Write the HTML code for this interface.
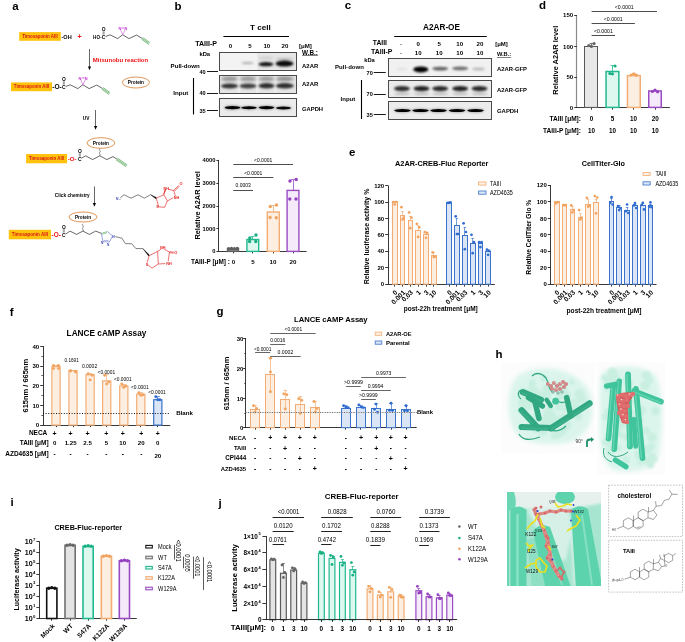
<!DOCTYPE html>
<html><head><meta charset="utf-8"><title>Figure</title>
<style>html,body{margin:0;padding:0;background:#fff;width:685px;height:642px;overflow:hidden;}svg{display:block;font-family:"Liberation Sans", sans-serif;will-change:transform;}</style>
</head><body><svg width="685" height="642" viewBox="0 0 685 642" font-family='"Liberation Sans", sans-serif'><defs><filter id="bl1" x="-50%" y="-50%" width="200%" height="200%"><feGaussianBlur stdDeviation="0.1"/></filter><filter id="bl2" x="-50%" y="-50%" width="200%" height="200%"><feGaussianBlur stdDeviation="0.2"/></filter><filter id="bl3" x="-50%" y="-50%" width="200%" height="200%"><feGaussianBlur stdDeviation="0.3"/></filter><filter id="bl4" x="-50%" y="-50%" width="200%" height="200%"><feGaussianBlur stdDeviation="0.4"/></filter><filter id="bl5" x="-50%" y="-50%" width="200%" height="200%"><feGaussianBlur stdDeviation="0.5"/></filter><filter id="bl6" x="-50%" y="-50%" width="200%" height="200%"><feGaussianBlur stdDeviation="0.6"/></filter><filter id="bl7" x="-50%" y="-50%" width="200%" height="200%"><feGaussianBlur stdDeviation="0.7"/></filter><filter id="bl8" x="-50%" y="-50%" width="200%" height="200%"><feGaussianBlur stdDeviation="0.8"/></filter><filter id="bl9" x="-50%" y="-50%" width="200%" height="200%"><feGaussianBlur stdDeviation="0.9"/></filter><filter id="bl10" x="-50%" y="-50%" width="200%" height="200%"><feGaussianBlur stdDeviation="1.0"/></filter><filter id="bl11" x="-50%" y="-50%" width="200%" height="200%"><feGaussianBlur stdDeviation="1.1"/></filter><filter id="bl12" x="-50%" y="-50%" width="200%" height="200%"><feGaussianBlur stdDeviation="1.2"/></filter><filter id="bl13" x="-50%" y="-50%" width="200%" height="200%"><feGaussianBlur stdDeviation="1.3"/></filter><filter id="bl14" x="-50%" y="-50%" width="200%" height="200%"><feGaussianBlur stdDeviation="1.4"/></filter><filter id="bl15" x="-50%" y="-50%" width="200%" height="200%"><feGaussianBlur stdDeviation="1.5"/></filter><filter id="bl16" x="-50%" y="-50%" width="200%" height="200%"><feGaussianBlur stdDeviation="1.6"/></filter><filter id="bl17" x="-50%" y="-50%" width="200%" height="200%"><feGaussianBlur stdDeviation="1.7"/></filter><filter id="bl18" x="-50%" y="-50%" width="200%" height="200%"><feGaussianBlur stdDeviation="1.8"/></filter><filter id="bl19" x="-50%" y="-50%" width="200%" height="200%"><feGaussianBlur stdDeviation="1.9"/></filter><filter id="bl20" x="-50%" y="-50%" width="200%" height="200%"><feGaussianBlur stdDeviation="2.0"/></filter><filter id="bl21" x="-50%" y="-50%" width="200%" height="200%"><feGaussianBlur stdDeviation="2.1"/></filter><filter id="bl22" x="-50%" y="-50%" width="200%" height="200%"><feGaussianBlur stdDeviation="2.2"/></filter><filter id="bl23" x="-50%" y="-50%" width="200%" height="200%"><feGaussianBlur stdDeviation="2.3"/></filter><filter id="bl24" x="-50%" y="-50%" width="200%" height="200%"><feGaussianBlur stdDeviation="2.4"/></filter><filter id="bl25" x="-50%" y="-50%" width="200%" height="200%"><feGaussianBlur stdDeviation="2.5"/></filter><filter id="bl26" x="-50%" y="-50%" width="200%" height="200%"><feGaussianBlur stdDeviation="2.6"/></filter><filter id="bl27" x="-50%" y="-50%" width="200%" height="200%"><feGaussianBlur stdDeviation="2.7"/></filter><filter id="bl28" x="-50%" y="-50%" width="200%" height="200%"><feGaussianBlur stdDeviation="2.8"/></filter><filter id="bl29" x="-50%" y="-50%" width="200%" height="200%"><feGaussianBlur stdDeviation="2.9"/></filter><filter id="bl30" x="-50%" y="-50%" width="200%" height="200%"><feGaussianBlur stdDeviation="3.0"/></filter></defs><text x="12.30" y="9.90" font-size="11.5" font-weight="bold" fill="#000">a</text>
<rect x="19.20" y="32.10" width="41.60" height="8.70" fill="#ffc20e" stroke="none" stroke-width="0.8"/>
<text x="40.00" y="38.06" font-size="4.47" font-weight="bold" text-anchor="middle" fill="#d81818">Timosaponin AIII</text>
<text x="61.50" y="38.60" font-size="5.56" font-weight="bold" text-anchor="start" fill="#000">-OH</text>
<text x="79.60" y="38.72" font-size="7.0" font-weight="bold" text-anchor="middle" fill="#f01010">+</text>
<text x="93.10" y="38.57" font-size="4.64" font-weight="bold" text-anchor="start" fill="#000">HO-</text>
<text x="103.60" y="38.66" font-size="4.9" font-weight="bold" text-anchor="middle" fill="#000">C</text>
<line x1="103.10" y1="34.60" x2="103.10" y2="31.30" stroke="#000" stroke-width="0.4"/>
<line x1="104.10" y1="34.60" x2="104.10" y2="31.30" stroke="#000" stroke-width="0.4"/>
<text x="103.60" y="30.66" font-size="4.9" font-weight="bold" text-anchor="middle" fill="#000">O</text>
<polyline points="105.40,36.60 110.00,34.80 117.60,38.60 122.70,34.80 128.90,38.60 136.50,35.10 142.20,38.40" stroke="#000" stroke-width="0.6" fill="none" stroke-linejoin="round"/>
<line x1="122.70" y1="34.80" x2="120.50" y2="29.40" stroke="#c03ad0" stroke-width="0.5"/>
<line x1="122.70" y1="34.80" x2="125.20" y2="29.40" stroke="#c03ad0" stroke-width="0.5"/>
<line x1="121.40" y1="27.50" x2="124.30" y2="27.50" stroke="#c03ad0" stroke-width="0.4"/>
<line x1="121.40" y1="28.50" x2="124.30" y2="28.50" stroke="#c03ad0" stroke-width="0.4"/>
<text x="119.80" y="29.60" font-size="3.9" font-weight="bold" text-anchor="middle" fill="#c03ad0">N</text>
<text x="125.90" y="29.60" font-size="3.9" font-weight="bold" text-anchor="middle" fill="#c03ad0">N</text>
<line x1="142.84" y1="37.51" x2="149.94" y2="42.61" stroke="#2f9233" stroke-width="0.6"/>
<line x1="142.20" y1="38.40" x2="149.30" y2="43.50" stroke="#2f9233" stroke-width="0.6"/>
<line x1="141.56" y1="39.29" x2="148.66" y2="44.39" stroke="#2f9233" stroke-width="0.6"/>
<line x1="89.50" y1="49.00" x2="89.50" y2="68.00" stroke="#000" stroke-width="0.6"/>
<path d="M87.9,66.4 L89.5,70.2 L91.1,66.4 Z" stroke="none" stroke-width="0.8" fill="#000"/>
<text x="92.80" y="62.06" font-size="6.0" font-weight="bold" text-anchor="start" fill="#f01010">Mitsunobu reaction</text>
<rect x="11.00" y="82.40" width="41.00" height="8.80" fill="#ffc20e" stroke="none" stroke-width="0.8"/>
<text x="31.50" y="88.39" font-size="4.41" font-weight="bold" text-anchor="middle" fill="#d81818">Timosaponin AIII</text>
<text x="52.20" y="89.19" font-size="6.65" font-weight="bold" text-anchor="start" fill="#000">-O-</text>
<text x="63.80" y="88.66" font-size="4.9" font-weight="bold" text-anchor="middle" fill="#000">C</text>
<line x1="63.30" y1="84.60" x2="63.30" y2="81.30" stroke="#000" stroke-width="0.4"/>
<line x1="64.30" y1="84.60" x2="64.30" y2="81.30" stroke="#000" stroke-width="0.4"/>
<text x="63.80" y="80.66" font-size="4.9" font-weight="bold" text-anchor="middle" fill="#000">O</text>
<polyline points="65.60,86.60 70.20,84.80 77.80,88.60 82.90,84.80 89.10,88.60 96.70,85.10 102.40,88.40" stroke="#000" stroke-width="0.6" fill="none" stroke-linejoin="round"/>
<line x1="82.90" y1="84.80" x2="80.70" y2="79.40" stroke="#c03ad0" stroke-width="0.5"/>
<line x1="82.90" y1="84.80" x2="85.40" y2="79.40" stroke="#c03ad0" stroke-width="0.5"/>
<line x1="81.60" y1="77.50" x2="84.50" y2="77.50" stroke="#c03ad0" stroke-width="0.4"/>
<line x1="81.60" y1="78.50" x2="84.50" y2="78.50" stroke="#c03ad0" stroke-width="0.4"/>
<text x="80.00" y="79.60" font-size="3.9" font-weight="bold" text-anchor="middle" fill="#c03ad0">N</text>
<text x="86.10" y="79.60" font-size="3.9" font-weight="bold" text-anchor="middle" fill="#c03ad0">N</text>
<line x1="103.04" y1="87.51" x2="110.14" y2="92.61" stroke="#2f9233" stroke-width="0.6"/>
<line x1="102.40" y1="88.40" x2="109.50" y2="93.50" stroke="#2f9233" stroke-width="0.6"/>
<line x1="101.76" y1="89.29" x2="108.86" y2="94.39" stroke="#2f9233" stroke-width="0.6"/>
<ellipse cx="135.90" cy="82.50" rx="13.6" ry="5.5" fill="#fff" stroke="#d8843a" stroke-width="0.85"/>
<text x="135.90" y="84.19" font-size="4.7" font-weight="bold" text-anchor="middle" fill="#000">Protein</text>
<text x="82.70" y="119.64" font-size="4.82" font-weight="bold" text-anchor="start" fill="#000">UV</text>
<line x1="95.50" y1="110.00" x2="95.50" y2="127.50" stroke="#000" stroke-width="0.6"/>
<path d="M94.0,126.0 L95.6,129.8 L97.2,126.0 Z" stroke="none" stroke-width="0.8" fill="#000"/>
<ellipse cx="100.90" cy="143.00" rx="13.9" ry="5.3" fill="#fff" stroke="#d8843a" stroke-width="0.85"/>
<text x="100.90" y="144.69" font-size="4.7" font-weight="bold" text-anchor="middle" fill="#000">Protein</text>
<rect x="26.10" y="154.00" width="41.00" height="9.30" fill="#ffc20e" stroke="none" stroke-width="0.8"/>
<text x="46.60" y="160.24" font-size="4.41" font-weight="bold" text-anchor="middle" fill="#d81818">Timosaponin AIII</text>
<text x="67.80" y="161.10" font-size="6.1" font-weight="bold" text-anchor="start" fill="#f01010">-O-</text>
<text x="79.80" y="160.56" font-size="4.9" font-weight="bold" text-anchor="middle" fill="#000">C</text>
<line x1="79.30" y1="156.50" x2="79.30" y2="153.20" stroke="#000" stroke-width="0.4"/>
<line x1="80.30" y1="156.50" x2="80.30" y2="153.20" stroke="#000" stroke-width="0.4"/>
<text x="79.80" y="152.56" font-size="4.9" font-weight="bold" text-anchor="middle" fill="#000">O</text>
<polyline points="81.40,158.20 85.70,155.80 92.60,159.60 99.80,155.80 106.80,159.60 113.00,156.60 116.70,159.00" stroke="#000" stroke-width="0.6" fill="none" stroke-linejoin="round"/>
<path d="M99.80,155.80 q0.9,-0.9 0,-1.8 q-0.9,-0.9 0,-1.8 q0.9,-0.9 0,-1.8 q-0.9,-0.9 0,-1.8" stroke="#000" stroke-width="0.45" fill="none"/>
<line x1="117.32" y1="158.09" x2="127.22" y2="164.89" stroke="#2f9233" stroke-width="0.6"/>
<line x1="116.70" y1="159.00" x2="126.60" y2="165.80" stroke="#2f9233" stroke-width="0.6"/>
<line x1="116.08" y1="159.91" x2="125.98" y2="166.71" stroke="#2f9233" stroke-width="0.6"/>
<text x="54.80" y="197.00" font-size="4.73" font-weight="bold" text-anchor="start" fill="#000">Click chemistry</text>
<line x1="94.50" y1="186.40" x2="94.50" y2="204.50" stroke="#000" stroke-width="0.6"/>
<path d="M92.8,203.0 L94.4,206.8 L96.0,203.0 Z" stroke="none" stroke-width="0.8" fill="#000"/>
<text x="117.30" y="199.62" font-size="3.4" font-weight="bold" text-anchor="middle" fill="#3a4ab8">N</text>
<text x="119.30" y="200.39" font-size="2.2" text-anchor="start" fill="#3a4ab8">3</text>
<polyline points="120.20,198.00 124.00,194.70 131.00,198.20 138.00,194.70 144.30,198.20 150.60,194.70" stroke="#000" stroke-width="0.5" fill="none" stroke-linejoin="round"/>
<path d="M150.6,194.7 L156.4,197.6 L155.9,198.8 Z" stroke="#000" stroke-width="0.4" fill="#000"/>
<polyline points="156.20,198.20 163.90,194.70 167.40,201.00 164.60,207.30 158.80,206.80 156.20,198.20" stroke="#e52222" stroke-width="0.65" fill="none" stroke-linejoin="round"/>
<polyline points="163.90,194.70 165.20,190.20" stroke="#e52222" stroke-width="0.65" fill="none" stroke-linejoin="round"/>
<polyline points="168.00,189.20 173.70,190.50 175.40,196.20" stroke="#e52222" stroke-width="0.65" fill="none" stroke-linejoin="round"/>
<polyline points="173.20,197.70 167.40,201.00" stroke="#e52222" stroke-width="0.65" fill="none" stroke-linejoin="round"/>
<line x1="173.70" y1="190.50" x2="178.70" y2="185.40" stroke="#e52222" stroke-width="0.65"/>
<line x1="174.50" y1="191.20" x2="179.50" y2="186.10" stroke="#e52222" stroke-width="0.65"/>
<path d="M163.4,194.3 L164.8,189.9 L165.7,190.4 Z" stroke="#e52222" stroke-width="0.3" fill="#e52222"/>
<text x="166.20" y="189.97" font-size="3.8" font-weight="bold" text-anchor="middle" fill="#e52222">NH</text>
<text x="176.40" y="198.77" font-size="3.8" font-weight="bold" text-anchor="middle" fill="#e52222">NH</text>
<text x="157.40" y="208.17" font-size="3.8" font-weight="bold" text-anchor="middle" fill="#e52222">S</text>
<text x="181.00" y="185.40" font-size="3.9" font-weight="bold" text-anchor="middle" fill="#e52222">O</text>
<ellipse cx="83.00" cy="217.00" rx="14.0" ry="5.0" fill="#fff" stroke="#d8843a" stroke-width="0.85"/>
<text x="83.00" y="218.69" font-size="4.7" font-weight="bold" text-anchor="middle" fill="#000">Protein</text>
<rect x="8.80" y="229.80" width="42.20" height="9.50" fill="#ffc20e" stroke="none" stroke-width="0.8"/>
<text x="29.90" y="236.18" font-size="4.54" font-weight="bold" text-anchor="middle" fill="#d81818">Timosaponin AIII</text>
<text x="51.50" y="236.82" font-size="6.44" font-weight="bold" text-anchor="start" fill="#f01010">-O-</text>
<text x="63.80" y="236.56" font-size="4.9" font-weight="bold" text-anchor="middle" fill="#000">C</text>
<line x1="63.30" y1="232.50" x2="63.30" y2="229.20" stroke="#000" stroke-width="0.4"/>
<line x1="64.30" y1="232.50" x2="64.30" y2="229.20" stroke="#000" stroke-width="0.4"/>
<text x="63.80" y="228.56" font-size="4.9" font-weight="bold" text-anchor="middle" fill="#000">O</text>
<polyline points="65.40,234.20 70.10,231.10 76.50,234.40 82.90,231.10 89.30,234.40 95.70,231.10 101.30,233.30" stroke="#000" stroke-width="0.6" fill="none" stroke-linejoin="round"/>
<path d="M82.90,231.10 q0.9,-0.9 0,-1.8 q-0.9,-0.9 0,-1.8 q0.9,-0.9 0,-1.8 q-0.9,-0.9 0,-1.8" stroke="#000" stroke-width="0.45" fill="none"/>
<path d="M101.3,233.3 L107.5,231.6" stroke="#2f9233" stroke-width="0.5" fill="none"/>
<line x1="101.90" y1="234.30" x2="107.00" y2="232.90" stroke="#2f9233" stroke-width="0.45"/>
<polyline points="107.50,231.60 112.60,236.00 109.30,242.00 103.00,241.60 101.30,233.30" stroke="#3a4ab8" stroke-width="0.5" fill="none" stroke-linejoin="round"/>
<line x1="103.80" y1="240.30" x2="108.40" y2="240.60" stroke="#3a4ab8" stroke-width="0.4"/>
<text x="113.60" y="237.52" font-size="3.4" font-weight="bold" text-anchor="middle" fill="#3a4ab8">N</text>
<text x="102.20" y="244.35" font-size="3.2" font-weight="bold" text-anchor="middle" fill="#3a4ab8">N</text>
<text x="108.20" y="245.95" font-size="3.2" font-weight="bold" text-anchor="middle" fill="#3a4ab8">N</text>
<polyline points="115.30,236.60 118.50,237.40 121.90,238.10 125.40,243.70 131.70,243.70 135.90,248.60 142.90,248.60" stroke="#000" stroke-width="0.5" fill="none" stroke-linejoin="round"/>
<path d="M142.9,248.6 L149.4,255.0 L148.6,256.0 Z" stroke="#000" stroke-width="0.4" fill="#000"/>
<polyline points="147.10,262.60 149.20,255.60 157.60,251.40" stroke="#e52222" stroke-width="0.65" fill="none" stroke-linejoin="round"/>
<polyline points="157.60,251.40 158.30,264.00 152.00,268.20 148.20,265.10" stroke="#e52222" stroke-width="0.65" fill="none" stroke-linejoin="round"/>
<polyline points="157.60,251.40 161.20,249.10" stroke="#e52222" stroke-width="0.65" fill="none" stroke-linejoin="round"/>
<polyline points="164.20,249.10 169.50,252.10 168.20,261.10" stroke="#e52222" stroke-width="0.65" fill="none" stroke-linejoin="round"/>
<polyline points="165.20,263.60 158.30,264.00" stroke="#e52222" stroke-width="0.65" fill="none" stroke-linejoin="round"/>
<line x1="169.50" y1="251.60" x2="173.70" y2="252.20" stroke="#e52222" stroke-width="0.65"/>
<line x1="169.50" y1="252.60" x2="173.70" y2="253.20" stroke="#e52222" stroke-width="0.65"/>
<text x="162.70" y="249.17" font-size="3.8" font-weight="bold" text-anchor="middle" fill="#e52222">NH</text>
<text x="169.00" y="264.97" font-size="3.8" font-weight="bold" text-anchor="middle" fill="#e52222">NH</text>
<text x="146.90" y="265.57" font-size="3.8" font-weight="bold" text-anchor="middle" fill="#e52222">S</text>
<text x="175.80" y="254.20" font-size="3.9" font-weight="bold" text-anchor="middle" fill="#e52222">O</text>
<text x="174.60" y="9.60" font-size="11.5" font-weight="bold" fill="#000">b</text>
<text x="250.00" y="29.92" font-size="8.1" font-weight="bold" text-anchor="start" fill="#000">T cell</text>
<line x1="223.40" y1="36.50" x2="289.00" y2="36.50" stroke="#000" stroke-width="1.0"/>
<text x="195.20" y="46.14" font-size="7.05" font-weight="bold" text-anchor="start" fill="#000">TAIII-P</text>
<text x="230.40" y="47.80" font-size="6.1" font-weight="bold" text-anchor="middle" fill="#000">0</text>
<text x="250.00" y="47.80" font-size="6.1" font-weight="bold" text-anchor="middle" fill="#000">5</text>
<text x="266.80" y="47.80" font-size="6.1" font-weight="bold" text-anchor="middle" fill="#000">10</text>
<text x="285.00" y="47.80" font-size="6.1" font-weight="bold" text-anchor="middle" fill="#000">20</text>
<text x="299.00" y="47.70" font-size="6.11" font-weight="bold" text-anchor="start" fill="#000">[μM]</text>
<text x="199.40" y="55.90" font-size="5.83" font-weight="bold" text-anchor="start" fill="#000">kDa</text>
<text x="302.10" y="54.78" font-size="6.32" font-weight="bold" text-anchor="start" fill="#000">W.B.:</text>
<line x1="302.10" y1="55.50" x2="317.90" y2="55.50" stroke="#000" stroke-width="0.5"/>
<text x="170.60" y="68.00" font-size="6.11" font-weight="bold" text-anchor="start" fill="#000">Pull-down</text>
<text x="302.10" y="68.13" font-size="5.91" font-weight="bold" text-anchor="start" fill="#000">A2AR</text>
<text x="302.10" y="86.03" font-size="5.91" font-weight="bold" text-anchor="start" fill="#000">A2AR</text>
<text x="302.10" y="110.89" font-size="5.81" font-weight="bold" text-anchor="start" fill="#000">GAPDH</text>
<text x="173.30" y="95.21" font-size="6.14" font-weight="bold" text-anchor="start" fill="#000">Input</text>
<line x1="193.50" y1="78.00" x2="193.50" y2="114.50" stroke="#000" stroke-width="1.1"/>
<text x="205.70" y="74.02" font-size="5.6" font-weight="bold" text-anchor="end" fill="#000">40</text>
<text x="205.70" y="95.32" font-size="5.6" font-weight="bold" text-anchor="end" fill="#000">40</text>
<text x="205.70" y="113.22" font-size="5.6" font-weight="bold" text-anchor="end" fill="#000">35</text>
<line x1="207.00" y1="71.50" x2="218.00" y2="71.50" stroke="#000" stroke-width="0.9"/>
<line x1="207.00" y1="93.50" x2="218.00" y2="93.50" stroke="#000" stroke-width="0.9"/>
<line x1="207.00" y1="110.50" x2="218.00" y2="110.50" stroke="#000" stroke-width="0.9"/>
<clipPath id="clip1"><rect x="219.4" y="52.4" width="76.9" height="18.4"/></clipPath>
<g clip-path="url(#clip1)">
<rect x="219.40" y="52.40" width="76.90" height="18.40" fill="#f3f3f3" stroke="none" stroke-width="0.8"/>
<rect x="257.50" y="52.40" width="38.80" height="18.40" fill="#e6e6e6" stroke="none" stroke-width="0.8"/>
<ellipse cx="247.50" cy="63.00" rx="6.00" ry="1.30" fill="#000" fill-opacity="0.25" filter="url(#bl10)"/>
<ellipse cx="266.00" cy="64.20" rx="7.50" ry="2.10" fill="#000" fill-opacity="0.92" filter="url(#bl9)"/>
<ellipse cx="284.50" cy="63.60" rx="9.00" ry="3.00" fill="#000" fill-opacity="0.95" filter="url(#bl10)"/>
<ellipse cx="284.50" cy="59.00" rx="9.00" ry="1.50" fill="#000" fill-opacity="0.15" filter="url(#bl12)"/>
<ellipse cx="266.00" cy="58.00" rx="7.50" ry="1.50" fill="#000" fill-opacity="0.1" filter="url(#bl12)"/>
</g>
<rect x="219.50" y="52.50" width="77.00" height="18.00" fill="none" stroke="#4a4a4a" stroke-width="1.0"/>
<clipPath id="clip2"><rect x="219.4" y="75.4" width="76.9" height="18.0"/></clipPath>
<g clip-path="url(#clip2)">
<rect x="219.40" y="75.40" width="76.90" height="18.00" fill="#e4e4e4" stroke="none" stroke-width="0.8"/>
<rect x="237.50" y="75.40" width="3.00" height="18.00" fill="#ececec" stroke="none" stroke-width="0.8"/>
<rect x="256.00" y="75.40" width="2.50" height="18.00" fill="#ececec" stroke="none" stroke-width="0.8"/>
<rect x="274.50" y="75.40" width="2.00" height="18.00" fill="#ececec" stroke="none" stroke-width="0.8"/>
<ellipse cx="229.50" cy="86.00" rx="8.50" ry="2.60" fill="#000" fill-opacity="0.78" filter="url(#bl13)"/>
<ellipse cx="248.00" cy="86.00" rx="8.50" ry="2.50" fill="#000" fill-opacity="0.72" filter="url(#bl13)"/>
<ellipse cx="266.50" cy="85.80" rx="8.00" ry="2.70" fill="#000" fill-opacity="0.8" filter="url(#bl13)"/>
<ellipse cx="284.80" cy="85.80" rx="9.00" ry="2.70" fill="#000" fill-opacity="0.8" filter="url(#bl13)"/>
<ellipse cx="229.50" cy="78.80" rx="8.50" ry="2.25" fill="#000" fill-opacity="0.36" filter="url(#bl14)"/>
<ellipse cx="248.00" cy="78.80" rx="8.50" ry="2.25" fill="#000" fill-opacity="0.34" filter="url(#bl14)"/>
<ellipse cx="266.50" cy="78.80" rx="8.00" ry="2.25" fill="#000" fill-opacity="0.34" filter="url(#bl14)"/>
<ellipse cx="284.80" cy="78.80" rx="9.00" ry="2.25" fill="#000" fill-opacity="0.38" filter="url(#bl14)"/>
</g>
<rect x="219.50" y="75.50" width="77.00" height="18.00" fill="none" stroke="#4a4a4a" stroke-width="1.0"/>
<clipPath id="clip3"><rect x="219.4" y="98.3" width="76.9" height="18.400000000000006"/></clipPath>
<g clip-path="url(#clip3)">
<rect x="219.40" y="98.30" width="76.90" height="18.40" fill="#ececec" stroke="none" stroke-width="0.8"/>
<ellipse cx="232.50" cy="107.60" rx="7.75" ry="1.70" fill="#000" fill-opacity="1.0" filter="url(#bl5)"/>
<ellipse cx="249.00" cy="107.80" rx="7.75" ry="1.50" fill="#000" fill-opacity="1.0" filter="url(#bl5)"/>
<ellipse cx="266.50" cy="107.60" rx="7.75" ry="1.60" fill="#000" fill-opacity="1.0" filter="url(#bl5)"/>
<ellipse cx="283.50" cy="108.00" rx="7.50" ry="1.40" fill="#000" fill-opacity="0.95" filter="url(#bl5)"/>
<ellipse cx="232.50" cy="107.60" rx="8.75" ry="2.30" fill="#000" fill-opacity="0.35" filter="url(#bl10)"/>
<ellipse cx="249.00" cy="107.80" rx="8.75" ry="2.10" fill="#000" fill-opacity="0.3" filter="url(#bl10)"/>
<ellipse cx="266.50" cy="107.60" rx="8.75" ry="2.20" fill="#000" fill-opacity="0.35" filter="url(#bl10)"/>
<ellipse cx="283.50" cy="108.00" rx="8.50" ry="2.00" fill="#000" fill-opacity="0.3" filter="url(#bl10)"/>
</g>
<rect x="219.50" y="98.50" width="77.00" height="18.00" fill="none" stroke="#4a4a4a" stroke-width="1.0"/>
<text x="344.70" y="8.80" font-size="11.5" font-weight="bold" fill="#000">c</text>
<text x="423.00" y="29.76" font-size="8.22" font-weight="bold" text-anchor="start" fill="#000">A2AR-OE</text>
<line x1="394.20" y1="36.50" x2="486.80" y2="36.50" stroke="#000" stroke-width="1.0"/>
<text x="372.80" y="44.94" font-size="6.79" font-weight="bold" text-anchor="start" fill="#000">TAIII</text>
<text x="371.00" y="53.80" font-size="6.95" font-weight="bold" text-anchor="start" fill="#000">TAIII-P</text>
<text x="401.00" y="46.20" font-size="6.1" font-weight="bold" text-anchor="middle" fill="#000">-</text>
<text x="401.00" y="55.20" font-size="6.1" font-weight="bold" text-anchor="middle" fill="#000">-</text>
<text x="418.20" y="46.20" font-size="6.1" font-weight="bold" text-anchor="middle" fill="#000">0</text>
<text x="418.20" y="55.20" font-size="6.1" font-weight="bold" text-anchor="middle" fill="#000">10</text>
<text x="439.20" y="46.20" font-size="6.1" font-weight="bold" text-anchor="middle" fill="#000">5</text>
<text x="439.20" y="55.20" font-size="6.1" font-weight="bold" text-anchor="middle" fill="#000">10</text>
<text x="459.70" y="46.20" font-size="6.1" font-weight="bold" text-anchor="middle" fill="#000">10</text>
<text x="459.70" y="55.20" font-size="6.1" font-weight="bold" text-anchor="middle" fill="#000">10</text>
<text x="479.90" y="46.20" font-size="6.1" font-weight="bold" text-anchor="middle" fill="#000">20</text>
<text x="479.90" y="55.20" font-size="6.1" font-weight="bold" text-anchor="middle" fill="#000">10</text>
<text x="495.20" y="45.95" font-size="5.97" font-weight="bold" text-anchor="start" fill="#000">[μM]</text>
<text x="497.00" y="55.74" font-size="5.68" font-weight="bold" text-anchor="start" fill="#000">W.B.:</text>
<line x1="497.00" y1="57.50" x2="511.20" y2="57.50" stroke="#000" stroke-width="0.5"/>
<text x="364.20" y="61.78" font-size="5.78" font-weight="bold" text-anchor="start" fill="#000">kDa</text>
<text x="335.10" y="68.57" font-size="6.03" font-weight="bold" text-anchor="start" fill="#000">Pull-down</text>
<text x="340.60" y="101.37" font-size="6.02" font-weight="bold" text-anchor="start" fill="#000">Input</text>
<line x1="361.50" y1="80.00" x2="361.50" y2="119.00" stroke="#000" stroke-width="1.1"/>
<text x="497.00" y="70.61" font-size="5.87" font-weight="bold" text-anchor="start" fill="#000">A2AR-GFP</text>
<text x="497.00" y="91.81" font-size="5.87" font-weight="bold" text-anchor="start" fill="#000">A2AR-GFP</text>
<text x="497.00" y="112.83" font-size="5.93" font-weight="bold" text-anchor="start" fill="#000">GAPDH</text>
<text x="372.80" y="75.02" font-size="5.6" font-weight="bold" text-anchor="end" fill="#000">70</text>
<line x1="373.80" y1="72.50" x2="385.80" y2="72.50" stroke="#000" stroke-width="0.9"/>
<text x="372.80" y="96.12" font-size="5.6" font-weight="bold" text-anchor="end" fill="#000">70</text>
<line x1="373.80" y1="94.50" x2="385.80" y2="94.50" stroke="#000" stroke-width="0.9"/>
<text x="372.80" y="117.12" font-size="5.6" font-weight="bold" text-anchor="end" fill="#000">35</text>
<line x1="373.80" y1="114.50" x2="385.80" y2="114.50" stroke="#000" stroke-width="0.9"/>
<clipPath id="clip4"><rect x="388.2" y="58.7" width="103.69999999999999" height="17.599999999999994"/></clipPath>
<g clip-path="url(#clip4)">
<rect x="388.20" y="58.70" width="103.70" height="17.60" fill="#f1f1f1" stroke="none" stroke-width="0.8"/>
<ellipse cx="420.80" cy="69.40" rx="7.50" ry="3.00" fill="#000" fill-opacity="1.0" filter="url(#bl8)"/>
<ellipse cx="440.20" cy="68.60" rx="8.00" ry="1.90" fill="#000" fill-opacity="0.6" filter="url(#bl11)"/>
<ellipse cx="460.20" cy="68.40" rx="8.00" ry="1.90" fill="#000" fill-opacity="0.55" filter="url(#bl11)"/>
<ellipse cx="478.50" cy="69.00" rx="6.50" ry="1.60" fill="#000" fill-opacity="0.22" filter="url(#bl11)"/>
<ellipse cx="401.50" cy="69.00" rx="6.00" ry="1.50" fill="#000" fill-opacity="0.06" filter="url(#bl10)"/>
</g>
<rect x="388.50" y="58.50" width="103.00" height="18.00" fill="none" stroke="#4a4a4a" stroke-width="1.0"/>
<clipPath id="clip5"><rect x="388.2" y="80.2" width="103.69999999999999" height="17.39999999999999"/></clipPath>
<g clip-path="url(#clip5)">
<rect x="388.20" y="80.20" width="103.70" height="17.40" fill="#ebebeb" stroke="none" stroke-width="0.8"/>
<ellipse cx="402.00" cy="88.60" rx="8.00" ry="2.60" fill="#000" fill-opacity="0.8" filter="url(#bl12)"/>
<ellipse cx="421.50" cy="88.60" rx="8.00" ry="2.70" fill="#000" fill-opacity="0.86" filter="url(#bl12)"/>
<ellipse cx="440.20" cy="88.60" rx="8.00" ry="2.60" fill="#000" fill-opacity="0.82" filter="url(#bl12)"/>
<ellipse cx="460.20" cy="88.60" rx="8.00" ry="2.70" fill="#000" fill-opacity="0.86" filter="url(#bl12)"/>
<ellipse cx="479.50" cy="88.60" rx="8.00" ry="2.60" fill="#000" fill-opacity="0.82" filter="url(#bl12)"/>
<ellipse cx="402.00" cy="93.80" rx="8.00" ry="1.30" fill="#000" fill-opacity="0.2" filter="url(#bl12)"/>
<ellipse cx="421.50" cy="93.80" rx="8.00" ry="1.30" fill="#000" fill-opacity="0.2" filter="url(#bl12)"/>
<ellipse cx="440.20" cy="93.80" rx="8.00" ry="1.30" fill="#000" fill-opacity="0.2" filter="url(#bl12)"/>
<ellipse cx="460.20" cy="93.80" rx="8.00" ry="1.30" fill="#000" fill-opacity="0.2" filter="url(#bl12)"/>
<ellipse cx="479.50" cy="93.80" rx="8.00" ry="1.30" fill="#000" fill-opacity="0.2" filter="url(#bl12)"/>
</g>
<rect x="388.50" y="80.50" width="103.00" height="17.00" fill="none" stroke="#4a4a4a" stroke-width="1.0"/>
<clipPath id="clip6"><rect x="388.2" y="101.2" width="103.69999999999999" height="17.799999999999997"/></clipPath>
<g clip-path="url(#clip6)">
<rect x="388.20" y="101.20" width="103.70" height="17.80" fill="#ececec" stroke="none" stroke-width="0.8"/>
<ellipse cx="402.50" cy="110.60" rx="8.25" ry="1.50" fill="#000" fill-opacity="1.0" filter="url(#bl5)"/>
<ellipse cx="420.50" cy="110.60" rx="8.25" ry="1.50" fill="#000" fill-opacity="1.0" filter="url(#bl5)"/>
<ellipse cx="438.50" cy="110.60" rx="8.25" ry="1.50" fill="#000" fill-opacity="1.0" filter="url(#bl5)"/>
<ellipse cx="457.00" cy="110.60" rx="8.25" ry="1.50" fill="#000" fill-opacity="1.0" filter="url(#bl5)"/>
<ellipse cx="475.50" cy="110.60" rx="8.25" ry="1.50" fill="#000" fill-opacity="1.0" filter="url(#bl5)"/>
<ellipse cx="402.50" cy="110.60" rx="9.00" ry="2.10" fill="#000" fill-opacity="0.3" filter="url(#bl10)"/>
<ellipse cx="420.50" cy="110.60" rx="9.00" ry="2.10" fill="#000" fill-opacity="0.3" filter="url(#bl10)"/>
<ellipse cx="438.50" cy="110.60" rx="9.00" ry="2.10" fill="#000" fill-opacity="0.3" filter="url(#bl10)"/>
<ellipse cx="457.00" cy="110.60" rx="9.00" ry="2.10" fill="#000" fill-opacity="0.3" filter="url(#bl10)"/>
<ellipse cx="475.50" cy="110.60" rx="9.00" ry="2.10" fill="#000" fill-opacity="0.3" filter="url(#bl10)"/>
</g>
<rect x="388.50" y="101.50" width="103.00" height="18.00" fill="none" stroke="#4a4a4a" stroke-width="1.0"/>
<text x="539.00" y="8.60" font-size="11.5" font-weight="bold" fill="#000">d</text>
<line x1="576.50" y1="15.00" x2="576.50" y2="107.70" stroke="#8a8a8a" stroke-width="1.2"/>
<line x1="574.20" y1="15.50" x2="576.90" y2="15.50" stroke="#222" stroke-width="0.9"/>
<text x="573.20" y="17.48" font-size="6.05" font-weight="bold" text-anchor="end" fill="#000">150</text>
<line x1="574.20" y1="46.50" x2="576.90" y2="46.50" stroke="#222" stroke-width="0.9"/>
<text x="573.20" y="48.58" font-size="6.05" font-weight="bold" text-anchor="end" fill="#000">100</text>
<line x1="574.20" y1="77.50" x2="576.90" y2="77.50" stroke="#222" stroke-width="0.9"/>
<text x="573.20" y="79.18" font-size="6.05" font-weight="bold" text-anchor="end" fill="#000">50</text>
<line x1="574.20" y1="107.50" x2="576.90" y2="107.50" stroke="#222" stroke-width="0.9"/>
<text x="573.20" y="109.58" font-size="6.05" font-weight="bold" text-anchor="end" fill="#000">0</text>
<line x1="576.40" y1="107.50" x2="669.80" y2="107.50" stroke="#222" stroke-width="0.9"/>
<line x1="591.50" y1="107.40" x2="591.50" y2="109.70" stroke="#222" stroke-width="0.9"/>
<line x1="612.50" y1="107.40" x2="612.50" y2="109.70" stroke="#222" stroke-width="0.9"/>
<line x1="633.50" y1="107.40" x2="633.50" y2="109.70" stroke="#222" stroke-width="0.9"/>
<line x1="655.50" y1="107.40" x2="655.50" y2="109.70" stroke="#222" stroke-width="0.9"/>
<text x="555.40" y="62.87" font-size="7.41" font-weight="bold" text-anchor="middle" fill="#000" transform="rotate(-90 555.40 60.20)">Relative A2AR level</text>
<rect x="584.50" y="46.50" width="13.00" height="60.90" fill="#e8e8e8" stroke="#585858" stroke-width="1.0"/>
<line x1="591.50" y1="43.50" x2="591.50" y2="46.60" stroke="#585858" stroke-width="0.8"/>
<line x1="589.65" y1="43.50" x2="593.25" y2="43.50" stroke="#585858" stroke-width="0.8"/>
<circle cx="588.85" cy="45.50" r="1.60" fill="#666666" stroke="none" stroke-width="0.5"/>
<circle cx="591.45" cy="46.40" r="1.60" fill="#666666" stroke="none" stroke-width="0.5"/>
<circle cx="594.05" cy="43.60" r="1.60" fill="#666666" stroke="none" stroke-width="0.5"/>
<rect x="606.05" y="71.50" width="12.80" height="35.90" fill="#dcf8ef" stroke="#22b890" stroke-width="1.5"/>
<line x1="612.50" y1="65.40" x2="612.50" y2="71.50" stroke="#22b890" stroke-width="0.8"/>
<line x1="610.65" y1="65.50" x2="614.25" y2="65.50" stroke="#22b890" stroke-width="0.8"/>
<circle cx="609.85" cy="73.50" r="1.60" fill="#18b083" stroke="none" stroke-width="0.5"/>
<circle cx="612.45" cy="73.80" r="1.60" fill="#18b083" stroke="none" stroke-width="0.5"/>
<circle cx="615.05" cy="66.00" r="1.60" fill="#18b083" stroke="none" stroke-width="0.5"/>
<rect x="627.45" y="75.60" width="12.80" height="31.80" fill="#fdeee2" stroke="#f3ad74" stroke-width="1.5"/>
<line x1="633.50" y1="73.80" x2="633.50" y2="75.60" stroke="#f3ad74" stroke-width="0.8"/>
<line x1="632.05" y1="73.50" x2="635.65" y2="73.50" stroke="#f3ad74" stroke-width="0.8"/>
<circle cx="631.25" cy="75.00" r="1.60" fill="#f0a460" stroke="none" stroke-width="0.5"/>
<circle cx="633.85" cy="73.80" r="1.60" fill="#f0a460" stroke="none" stroke-width="0.5"/>
<circle cx="636.45" cy="75.20" r="1.60" fill="#f0a460" stroke="none" stroke-width="0.5"/>
<rect x="648.75" y="91.00" width="12.50" height="16.40" fill="#f4eafa" stroke="#9a4cc3" stroke-width="1.5"/>
<line x1="655.50" y1="90.00" x2="655.50" y2="91.00" stroke="#9a4cc3" stroke-width="0.8"/>
<line x1="653.20" y1="90.50" x2="656.80" y2="90.50" stroke="#9a4cc3" stroke-width="0.8"/>
<circle cx="652.40" cy="91.50" r="1.60" fill="#9440bf" stroke="none" stroke-width="0.5"/>
<circle cx="655.00" cy="90.00" r="1.60" fill="#9440bf" stroke="none" stroke-width="0.5"/>
<circle cx="657.60" cy="91.80" r="1.60" fill="#9440bf" stroke="none" stroke-width="0.5"/>
<line x1="591.60" y1="11.50" x2="657.00" y2="11.50" stroke="#000" stroke-width="0.7"/>
<text x="624.30" y="8.70" font-size="5.82" text-anchor="middle" fill="#000" textLength="18.94" lengthAdjust="spacingAndGlyphs">&lt;0.0001</text>
<line x1="591.60" y1="23.50" x2="634.90" y2="23.50" stroke="#000" stroke-width="0.7"/>
<text x="613.25" y="20.70" font-size="5.82" text-anchor="middle" fill="#000" textLength="18.94" lengthAdjust="spacingAndGlyphs">&lt;0.0001</text>
<line x1="591.60" y1="35.50" x2="615.10" y2="35.50" stroke="#000" stroke-width="0.7"/>
<text x="603.35" y="33.00" font-size="5.82" text-anchor="middle" fill="#000" textLength="18.94" lengthAdjust="spacingAndGlyphs">&lt;0.0001</text>
<text x="549.50" y="121.05" font-size="6.54" font-weight="bold" text-anchor="start" fill="#000">TAIII [μM]:</text>
<text x="543.00" y="132.76" font-size="6.56" font-weight="bold" text-anchor="start" fill="#000">TAIII-P [μM]:</text>
<text x="591.60" y="120.97" font-size="6.3" font-weight="bold" text-anchor="middle" fill="#000">0</text>
<text x="591.60" y="132.67" font-size="6.3" font-weight="bold" text-anchor="middle" fill="#000">10</text>
<text x="612.60" y="120.97" font-size="6.3" font-weight="bold" text-anchor="middle" fill="#000">5</text>
<text x="612.60" y="132.67" font-size="6.3" font-weight="bold" text-anchor="middle" fill="#000">10</text>
<text x="633.60" y="120.97" font-size="6.3" font-weight="bold" text-anchor="middle" fill="#000">10</text>
<text x="633.60" y="132.67" font-size="6.3" font-weight="bold" text-anchor="middle" fill="#000">10</text>
<text x="655.30" y="120.97" font-size="6.3" font-weight="bold" text-anchor="middle" fill="#000">20</text>
<text x="655.30" y="132.67" font-size="6.3" font-weight="bold" text-anchor="middle" fill="#000">10</text>
<line x1="218.50" y1="159.90" x2="218.50" y2="251.70" stroke="#222" stroke-width="0.9"/>
<line x1="216.40" y1="160.50" x2="218.90" y2="160.50" stroke="#222" stroke-width="0.9"/>
<text x="215.40" y="162.29" font-size="5.8" font-weight="bold" text-anchor="end" fill="#000">4000</text>
<line x1="216.40" y1="183.50" x2="218.90" y2="183.50" stroke="#222" stroke-width="0.9"/>
<text x="215.40" y="185.09" font-size="5.8" font-weight="bold" text-anchor="end" fill="#000">3000</text>
<line x1="216.40" y1="206.50" x2="218.90" y2="206.50" stroke="#222" stroke-width="0.9"/>
<text x="215.40" y="208.09" font-size="5.8" font-weight="bold" text-anchor="end" fill="#000">2000</text>
<line x1="216.40" y1="228.50" x2="218.90" y2="228.50" stroke="#222" stroke-width="0.9"/>
<text x="215.40" y="230.59" font-size="5.8" font-weight="bold" text-anchor="end" fill="#000">1000</text>
<line x1="216.40" y1="251.50" x2="218.90" y2="251.50" stroke="#222" stroke-width="0.9"/>
<text x="215.40" y="253.49" font-size="5.8" font-weight="bold" text-anchor="end" fill="#000">0</text>
<line x1="218.60" y1="251.50" x2="306.60" y2="251.50" stroke="#222" stroke-width="0.9"/>
<line x1="233.50" y1="251.40" x2="233.50" y2="253.40" stroke="#222" stroke-width="0.9"/>
<line x1="252.50" y1="251.40" x2="252.50" y2="253.40" stroke="#222" stroke-width="0.9"/>
<line x1="273.50" y1="251.40" x2="273.50" y2="253.40" stroke="#222" stroke-width="0.9"/>
<line x1="293.50" y1="251.40" x2="293.50" y2="253.40" stroke="#222" stroke-width="0.9"/>
<text x="197.30" y="207.95" font-size="7.37" font-weight="bold" text-anchor="middle" fill="#000" transform="rotate(-90 197.30 205.30)">Relative A2AR level</text>
<rect x="227.50" y="249.00" width="11.00" height="2.40" fill="#888" stroke="#606060" stroke-width="1.4"/>
<line x1="233.50" y1="248.00" x2="233.50" y2="249.00" stroke="#606060" stroke-width="0.8"/>
<line x1="231.20" y1="248.50" x2="234.80" y2="248.50" stroke="#606060" stroke-width="0.8"/>
<circle cx="228.60" cy="248.60" r="1.70" fill="#606060" stroke="none" stroke-width="0.5"/>
<circle cx="231.50" cy="248.40" r="1.70" fill="#606060" stroke="none" stroke-width="0.5"/>
<circle cx="234.50" cy="248.60" r="1.70" fill="#606060" stroke="none" stroke-width="0.5"/>
<circle cx="237.40" cy="248.40" r="1.70" fill="#606060" stroke="none" stroke-width="0.5"/>
<rect x="246.90" y="239.50" width="11.80" height="11.90" fill="#dcf8ef" stroke="#22b890" stroke-width="1.4"/>
<line x1="252.50" y1="236.50" x2="252.50" y2="239.50" stroke="#22b890" stroke-width="0.8"/>
<line x1="251.00" y1="236.50" x2="254.60" y2="236.50" stroke="#22b890" stroke-width="0.8"/>
<circle cx="249.60" cy="241.50" r="1.70" fill="#18b083" stroke="none" stroke-width="0.5"/>
<circle cx="255.80" cy="241.50" r="1.70" fill="#18b083" stroke="none" stroke-width="0.5"/>
<circle cx="249.80" cy="238.00" r="1.70" fill="#18b083" stroke="none" stroke-width="0.5"/>
<circle cx="256.00" cy="235.00" r="1.70" fill="#18b083" stroke="none" stroke-width="0.5"/>
<rect x="267.30" y="212.00" width="12.00" height="39.40" fill="#fdeee2" stroke="#f3ad74" stroke-width="1.4"/>
<line x1="273.50" y1="205.40" x2="273.50" y2="212.00" stroke="#f3ad74" stroke-width="0.8"/>
<line x1="271.50" y1="205.50" x2="275.10" y2="205.50" stroke="#f3ad74" stroke-width="0.8"/>
<circle cx="270.10" cy="217.50" r="1.70" fill="#f0a460" stroke="none" stroke-width="0.5"/>
<circle cx="276.30" cy="217.80" r="1.70" fill="#f0a460" stroke="none" stroke-width="0.5"/>
<circle cx="270.30" cy="206.50" r="1.70" fill="#f0a460" stroke="none" stroke-width="0.5"/>
<circle cx="276.50" cy="205.00" r="1.70" fill="#f0a460" stroke="none" stroke-width="0.5"/>
<rect x="287.10" y="190.40" width="11.80" height="61.00" fill="#f4eafa" stroke="#9a4cc3" stroke-width="1.4"/>
<line x1="293.50" y1="179.60" x2="293.50" y2="190.40" stroke="#9a4cc3" stroke-width="0.8"/>
<line x1="291.20" y1="179.50" x2="294.80" y2="179.50" stroke="#9a4cc3" stroke-width="0.8"/>
<circle cx="289.80" cy="199.00" r="1.70" fill="#9440bf" stroke="none" stroke-width="0.5"/>
<circle cx="296.00" cy="199.00" r="1.70" fill="#9440bf" stroke="none" stroke-width="0.5"/>
<circle cx="290.00" cy="181.00" r="1.70" fill="#9440bf" stroke="none" stroke-width="0.5"/>
<circle cx="296.20" cy="179.50" r="1.70" fill="#9440bf" stroke="none" stroke-width="0.5"/>
<line x1="233.30" y1="164.50" x2="293.00" y2="164.50" stroke="#000" stroke-width="0.7"/>
<text x="263.15" y="161.52" font-size="5.6" text-anchor="middle" fill="#000" textLength="18.21" lengthAdjust="spacingAndGlyphs">&lt;0.0001</text>
<line x1="233.30" y1="177.50" x2="273.30" y2="177.50" stroke="#000" stroke-width="0.7"/>
<text x="253.30" y="174.62" font-size="5.6" text-anchor="middle" fill="#000" textLength="18.21" lengthAdjust="spacingAndGlyphs">&lt;0.0001</text>
<line x1="233.30" y1="190.50" x2="253.00" y2="190.50" stroke="#000" stroke-width="0.7"/>
<text x="243.15" y="187.22" font-size="5.6" text-anchor="middle" fill="#000" textLength="15.29" lengthAdjust="spacingAndGlyphs">0.0003</text>
<text x="191.00" y="264.31" font-size="6.42" font-weight="bold" text-anchor="start" fill="#000">TAIII-P [μM] :</text>
<text x="233.50" y="264.23" font-size="6.2" font-weight="bold" text-anchor="middle" fill="#000">0</text>
<text x="253.00" y="264.23" font-size="6.2" font-weight="bold" text-anchor="middle" fill="#000">5</text>
<text x="272.90" y="264.23" font-size="6.2" font-weight="bold" text-anchor="middle" fill="#000">10</text>
<text x="293.00" y="264.23" font-size="6.2" font-weight="bold" text-anchor="middle" fill="#000">20</text>
<text x="349.00" y="155.50" font-size="11.5" font-weight="bold" fill="#000">e</text>
<text x="395.00" y="166.25" font-size="7.35" font-weight="bold" text-anchor="start" fill="#000">A2AR-CREB-Fluc Reporter</text>
<line x1="388.50" y1="185.50" x2="388.50" y2="284.50" stroke="#222" stroke-width="0.9"/>
<line x1="385.20" y1="185.50" x2="388.20" y2="185.50" stroke="#222" stroke-width="0.9"/>
<text x="384.20" y="187.96" font-size="6.0" font-weight="bold" text-anchor="end" fill="#000">120</text>
<line x1="385.20" y1="202.50" x2="388.20" y2="202.50" stroke="#222" stroke-width="0.9"/>
<text x="384.20" y="204.36" font-size="6.0" font-weight="bold" text-anchor="end" fill="#000">100</text>
<line x1="385.20" y1="218.50" x2="388.20" y2="218.50" stroke="#222" stroke-width="0.9"/>
<text x="384.20" y="220.66" font-size="6.0" font-weight="bold" text-anchor="end" fill="#000">80</text>
<line x1="385.20" y1="234.50" x2="388.20" y2="234.50" stroke="#222" stroke-width="0.9"/>
<text x="384.20" y="236.96" font-size="6.0" font-weight="bold" text-anchor="end" fill="#000">60</text>
<line x1="385.20" y1="251.50" x2="388.20" y2="251.50" stroke="#222" stroke-width="0.9"/>
<text x="384.20" y="253.46" font-size="6.0" font-weight="bold" text-anchor="end" fill="#000">40</text>
<line x1="385.20" y1="267.50" x2="388.20" y2="267.50" stroke="#222" stroke-width="0.9"/>
<text x="384.20" y="269.76" font-size="6.0" font-weight="bold" text-anchor="end" fill="#000">20</text>
<line x1="385.20" y1="284.50" x2="388.20" y2="284.50" stroke="#222" stroke-width="0.9"/>
<text x="384.20" y="286.36" font-size="6.0" font-weight="bold" text-anchor="end" fill="#000">0</text>
<line x1="387.60" y1="284.50" x2="494.80" y2="284.50" stroke="#222" stroke-width="0.9"/>
<line x1="394.50" y1="284.20" x2="394.50" y2="286.60" stroke="#222" stroke-width="0.9"/>
<line x1="402.50" y1="284.20" x2="402.50" y2="286.60" stroke="#222" stroke-width="0.9"/>
<line x1="410.50" y1="284.20" x2="410.50" y2="286.60" stroke="#222" stroke-width="0.9"/>
<line x1="418.50" y1="284.20" x2="418.50" y2="286.60" stroke="#222" stroke-width="0.9"/>
<line x1="426.50" y1="284.20" x2="426.50" y2="286.60" stroke="#222" stroke-width="0.9"/>
<line x1="433.50" y1="284.20" x2="433.50" y2="286.60" stroke="#222" stroke-width="0.9"/>
<line x1="449.50" y1="284.20" x2="449.50" y2="286.60" stroke="#222" stroke-width="0.9"/>
<line x1="456.50" y1="284.20" x2="456.50" y2="286.60" stroke="#222" stroke-width="0.9"/>
<line x1="464.50" y1="284.20" x2="464.50" y2="286.60" stroke="#222" stroke-width="0.9"/>
<line x1="472.50" y1="284.20" x2="472.50" y2="286.60" stroke="#222" stroke-width="0.9"/>
<line x1="480.50" y1="284.20" x2="480.50" y2="286.60" stroke="#222" stroke-width="0.9"/>
<line x1="488.50" y1="284.20" x2="488.50" y2="286.60" stroke="#222" stroke-width="0.9"/>
<text x="366.30" y="239.02" font-size="7.01" font-weight="bold" text-anchor="middle" fill="#000" transform="rotate(-90 366.30 236.50)">Relative luciferase activity %</text>
<rect x="392.50" y="201.50" width="5.00" height="82.70" fill="#fdeee2" stroke="#f3ad74" stroke-width="1.0"/>
<line x1="394.50" y1="201.00" x2="394.50" y2="201.50" stroke="#f3ad74" stroke-width="0.7"/>
<line x1="393.40" y1="201.50" x2="396.00" y2="201.50" stroke="#f3ad74" stroke-width="0.7"/>
<circle cx="393.50" cy="202.00" r="1.35" fill="#f0a460" stroke="none" stroke-width="0.5"/>
<circle cx="395.90" cy="202.00" r="1.35" fill="#f0a460" stroke="none" stroke-width="0.5"/>
<circle cx="394.70" cy="204.50" r="1.35" fill="#f0a460" stroke="none" stroke-width="0.5"/>
<rect x="400.50" y="215.50" width="4.00" height="68.70" fill="#fdeee2" stroke="#f3ad74" stroke-width="1.0"/>
<line x1="402.50" y1="211.50" x2="402.50" y2="215.90" stroke="#f3ad74" stroke-width="0.7"/>
<line x1="401.30" y1="211.50" x2="403.90" y2="211.50" stroke="#f3ad74" stroke-width="0.7"/>
<circle cx="401.40" cy="207.20" r="1.35" fill="#f0a460" stroke="none" stroke-width="0.5"/>
<circle cx="403.80" cy="217.70" r="1.35" fill="#f0a460" stroke="none" stroke-width="0.5"/>
<circle cx="402.60" cy="219.40" r="1.35" fill="#f0a460" stroke="none" stroke-width="0.5"/>
<rect x="408.50" y="220.50" width="4.00" height="63.70" fill="#fdeee2" stroke="#f3ad74" stroke-width="1.0"/>
<line x1="410.50" y1="216.00" x2="410.50" y2="220.00" stroke="#f3ad74" stroke-width="0.7"/>
<line x1="409.00" y1="216.50" x2="411.60" y2="216.50" stroke="#f3ad74" stroke-width="0.7"/>
<circle cx="409.10" cy="212.40" r="1.35" fill="#f0a460" stroke="none" stroke-width="0.5"/>
<circle cx="411.50" cy="217.70" r="1.35" fill="#f0a460" stroke="none" stroke-width="0.5"/>
<circle cx="410.30" cy="228.20" r="1.35" fill="#f0a460" stroke="none" stroke-width="0.5"/>
<rect x="415.50" y="230.50" width="5.00" height="53.70" fill="#fdeee2" stroke="#f3ad74" stroke-width="1.0"/>
<line x1="418.50" y1="225.90" x2="418.50" y2="230.00" stroke="#f3ad74" stroke-width="0.7"/>
<line x1="416.80" y1="225.50" x2="419.40" y2="225.50" stroke="#f3ad74" stroke-width="0.7"/>
<circle cx="416.90" cy="223.80" r="1.35" fill="#f0a460" stroke="none" stroke-width="0.5"/>
<circle cx="419.30" cy="227.30" r="1.35" fill="#f0a460" stroke="none" stroke-width="0.5"/>
<circle cx="418.10" cy="236.90" r="1.35" fill="#f0a460" stroke="none" stroke-width="0.5"/>
<rect x="423.50" y="234.50" width="5.00" height="49.70" fill="#fdeee2" stroke="#f3ad74" stroke-width="1.0"/>
<line x1="426.50" y1="232.00" x2="426.50" y2="234.30" stroke="#f3ad74" stroke-width="0.7"/>
<line x1="424.70" y1="232.50" x2="427.30" y2="232.50" stroke="#f3ad74" stroke-width="0.7"/>
<circle cx="424.80" cy="232.20" r="1.35" fill="#f0a460" stroke="none" stroke-width="0.5"/>
<circle cx="427.20" cy="232.90" r="1.35" fill="#f0a460" stroke="none" stroke-width="0.5"/>
<circle cx="426.00" cy="237.80" r="1.35" fill="#f0a460" stroke="none" stroke-width="0.5"/>
<rect x="431.50" y="255.50" width="5.00" height="28.70" fill="#fdeee2" stroke="#f3ad74" stroke-width="1.0"/>
<line x1="433.50" y1="252.00" x2="433.50" y2="255.90" stroke="#f3ad74" stroke-width="0.7"/>
<line x1="432.50" y1="252.50" x2="435.10" y2="252.50" stroke="#f3ad74" stroke-width="0.7"/>
<circle cx="432.60" cy="252.40" r="1.35" fill="#f0a460" stroke="none" stroke-width="0.5"/>
<circle cx="435.00" cy="256.60" r="1.35" fill="#f0a460" stroke="none" stroke-width="0.5"/>
<circle cx="433.80" cy="257.10" r="1.35" fill="#f0a460" stroke="none" stroke-width="0.5"/>
<rect x="446.50" y="202.50" width="5.00" height="81.70" fill="#dae5f6" stroke="#3b72cc" stroke-width="1.0"/>
<line x1="449.50" y1="202.00" x2="449.50" y2="202.40" stroke="#3b72cc" stroke-width="0.7"/>
<line x1="447.90" y1="202.50" x2="450.50" y2="202.50" stroke="#3b72cc" stroke-width="0.7"/>
<circle cx="448.00" cy="202.80" r="1.35" fill="#2f6bd0" stroke="none" stroke-width="0.5"/>
<circle cx="450.40" cy="202.40" r="1.35" fill="#2f6bd0" stroke="none" stroke-width="0.5"/>
<circle cx="449.20" cy="202.80" r="1.35" fill="#2f6bd0" stroke="none" stroke-width="0.5"/>
<rect x="454.50" y="225.50" width="5.00" height="58.70" fill="#dae5f6" stroke="#3b72cc" stroke-width="1.0"/>
<line x1="456.50" y1="218.20" x2="456.50" y2="225.20" stroke="#3b72cc" stroke-width="0.7"/>
<line x1="455.60" y1="218.50" x2="458.20" y2="218.50" stroke="#3b72cc" stroke-width="0.7"/>
<circle cx="455.70" cy="216.30" r="1.35" fill="#2f6bd0" stroke="none" stroke-width="0.5"/>
<circle cx="458.10" cy="234.00" r="1.35" fill="#2f6bd0" stroke="none" stroke-width="0.5"/>
<circle cx="456.90" cy="234.00" r="1.35" fill="#2f6bd0" stroke="none" stroke-width="0.5"/>
<rect x="462.50" y="235.50" width="5.00" height="48.70" fill="#dae5f6" stroke="#3b72cc" stroke-width="1.0"/>
<line x1="464.50" y1="227.30" x2="464.50" y2="235.20" stroke="#3b72cc" stroke-width="0.7"/>
<line x1="463.50" y1="227.50" x2="466.10" y2="227.50" stroke="#3b72cc" stroke-width="0.7"/>
<circle cx="463.60" cy="223.30" r="1.35" fill="#2f6bd0" stroke="none" stroke-width="0.5"/>
<circle cx="466.00" cy="232.00" r="1.35" fill="#2f6bd0" stroke="none" stroke-width="0.5"/>
<circle cx="464.80" cy="249.20" r="1.35" fill="#2f6bd0" stroke="none" stroke-width="0.5"/>
<rect x="470.50" y="243.50" width="5.00" height="40.70" fill="#dae5f6" stroke="#3b72cc" stroke-width="1.0"/>
<line x1="472.50" y1="238.70" x2="472.50" y2="243.40" stroke="#3b72cc" stroke-width="0.7"/>
<line x1="471.40" y1="238.50" x2="474.00" y2="238.50" stroke="#3b72cc" stroke-width="0.7"/>
<circle cx="471.50" cy="234.80" r="1.35" fill="#2f6bd0" stroke="none" stroke-width="0.5"/>
<circle cx="473.90" cy="242.20" r="1.35" fill="#2f6bd0" stroke="none" stroke-width="0.5"/>
<circle cx="472.70" cy="253.20" r="1.35" fill="#2f6bd0" stroke="none" stroke-width="0.5"/>
<rect x="478.50" y="243.50" width="4.00" height="40.70" fill="#dae5f6" stroke="#3b72cc" stroke-width="1.0"/>
<line x1="480.50" y1="242.00" x2="480.50" y2="243.10" stroke="#3b72cc" stroke-width="0.7"/>
<line x1="479.10" y1="242.50" x2="481.70" y2="242.50" stroke="#3b72cc" stroke-width="0.7"/>
<circle cx="479.20" cy="242.20" r="1.35" fill="#2f6bd0" stroke="none" stroke-width="0.5"/>
<circle cx="481.60" cy="242.20" r="1.35" fill="#2f6bd0" stroke="none" stroke-width="0.5"/>
<circle cx="480.40" cy="247.10" r="1.35" fill="#2f6bd0" stroke="none" stroke-width="0.5"/>
<rect x="485.50" y="251.50" width="5.00" height="32.70" fill="#dae5f6" stroke="#3b72cc" stroke-width="1.0"/>
<line x1="488.50" y1="249.50" x2="488.50" y2="251.50" stroke="#3b72cc" stroke-width="0.7"/>
<line x1="486.80" y1="249.50" x2="489.40" y2="249.50" stroke="#3b72cc" stroke-width="0.7"/>
<circle cx="486.90" cy="249.70" r="1.35" fill="#2f6bd0" stroke="none" stroke-width="0.5"/>
<circle cx="489.30" cy="251.00" r="1.35" fill="#2f6bd0" stroke="none" stroke-width="0.5"/>
<circle cx="488.10" cy="254.80" r="1.35" fill="#2f6bd0" stroke="none" stroke-width="0.5"/>
<rect x="478.60" y="181.90" width="7.40" height="3.20" fill="#fdeee2" stroke="#f3ad74" stroke-width="0.8"/>
<rect x="478.60" y="191.00" width="7.40" height="3.20" fill="#dae5f6" stroke="#3b72cc" stroke-width="0.8"/>
<text x="490.00" y="185.83" font-size="6.48" text-anchor="start" fill="#000" textLength="11.00" lengthAdjust="spacingAndGlyphs">TAIII</text>
<text x="490.00" y="195.03" font-size="6.48" text-anchor="start" fill="#000" textLength="22.81" lengthAdjust="spacingAndGlyphs">AZD4635</text>
<text x="396.20" y="293.61" font-size="6.7" font-weight="bold" text-anchor="end" fill="#000" transform="rotate(-45 396.20 291.20)">0</text>
<text x="404.10" y="293.61" font-size="6.7" font-weight="bold" text-anchor="end" fill="#000" transform="rotate(-45 404.10 291.20)">0.001</text>
<text x="411.80" y="293.61" font-size="6.7" font-weight="bold" text-anchor="end" fill="#000" transform="rotate(-45 411.80 291.20)">0.03</text>
<text x="419.60" y="293.61" font-size="6.7" font-weight="bold" text-anchor="end" fill="#000" transform="rotate(-45 419.60 291.20)">1</text>
<text x="427.50" y="293.61" font-size="6.7" font-weight="bold" text-anchor="end" fill="#000" transform="rotate(-45 427.50 291.20)">3</text>
<text x="435.30" y="293.61" font-size="6.7" font-weight="bold" text-anchor="end" fill="#000" transform="rotate(-45 435.30 291.20)">10</text>
<text x="450.70" y="293.61" font-size="6.7" font-weight="bold" text-anchor="end" fill="#000" transform="rotate(-45 450.70 291.20)">0</text>
<text x="458.40" y="293.61" font-size="6.7" font-weight="bold" text-anchor="end" fill="#000" transform="rotate(-45 458.40 291.20)">0.001</text>
<text x="466.30" y="293.61" font-size="6.7" font-weight="bold" text-anchor="end" fill="#000" transform="rotate(-45 466.30 291.20)">0.03</text>
<text x="474.20" y="293.61" font-size="6.7" font-weight="bold" text-anchor="end" fill="#000" transform="rotate(-45 474.20 291.20)">1</text>
<text x="481.90" y="293.61" font-size="6.7" font-weight="bold" text-anchor="end" fill="#000" transform="rotate(-45 481.90 291.20)">3</text>
<text x="489.60" y="293.61" font-size="6.7" font-weight="bold" text-anchor="end" fill="#000" transform="rotate(-45 489.60 291.20)">10</text>
<text x="403.70" y="310.84" font-size="6.51" font-weight="bold" text-anchor="start" fill="#000">post-22h treatment [μM]</text>
<text x="581.70" y="165.91" font-size="7.24" font-weight="bold" text-anchor="start" fill="#000">CellTiter-Glo</text>
<line x1="550.50" y1="185.00" x2="550.50" y2="284.50" stroke="#222" stroke-width="0.9"/>
<line x1="547.80" y1="185.50" x2="550.80" y2="185.50" stroke="#222" stroke-width="0.9"/>
<text x="546.80" y="187.46" font-size="6.0" font-weight="bold" text-anchor="end" fill="#000">120</text>
<line x1="547.80" y1="201.50" x2="550.80" y2="201.50" stroke="#222" stroke-width="0.9"/>
<text x="546.80" y="204.06" font-size="6.0" font-weight="bold" text-anchor="end" fill="#000">100</text>
<line x1="547.80" y1="218.50" x2="550.80" y2="218.50" stroke="#222" stroke-width="0.9"/>
<text x="546.80" y="220.66" font-size="6.0" font-weight="bold" text-anchor="end" fill="#000">80</text>
<line x1="547.80" y1="234.50" x2="550.80" y2="234.50" stroke="#222" stroke-width="0.9"/>
<text x="546.80" y="236.86" font-size="6.0" font-weight="bold" text-anchor="end" fill="#000">60</text>
<line x1="547.80" y1="251.50" x2="550.80" y2="251.50" stroke="#222" stroke-width="0.9"/>
<text x="546.80" y="253.16" font-size="6.0" font-weight="bold" text-anchor="end" fill="#000">40</text>
<line x1="547.80" y1="267.50" x2="550.80" y2="267.50" stroke="#222" stroke-width="0.9"/>
<text x="546.80" y="269.76" font-size="6.0" font-weight="bold" text-anchor="end" fill="#000">20</text>
<line x1="547.80" y1="284.50" x2="550.80" y2="284.50" stroke="#222" stroke-width="0.9"/>
<text x="546.80" y="286.36" font-size="6.0" font-weight="bold" text-anchor="end" fill="#000">0</text>
<line x1="550.20" y1="284.50" x2="656.50" y2="284.50" stroke="#222" stroke-width="0.9"/>
<line x1="556.50" y1="284.20" x2="556.50" y2="286.60" stroke="#222" stroke-width="0.9"/>
<line x1="564.50" y1="284.20" x2="564.50" y2="286.60" stroke="#222" stroke-width="0.9"/>
<line x1="572.50" y1="284.20" x2="572.50" y2="286.60" stroke="#222" stroke-width="0.9"/>
<line x1="580.50" y1="284.20" x2="580.50" y2="286.60" stroke="#222" stroke-width="0.9"/>
<line x1="588.50" y1="284.20" x2="588.50" y2="286.60" stroke="#222" stroke-width="0.9"/>
<line x1="596.50" y1="284.20" x2="596.50" y2="286.60" stroke="#222" stroke-width="0.9"/>
<line x1="611.50" y1="284.20" x2="611.50" y2="286.60" stroke="#222" stroke-width="0.9"/>
<line x1="619.50" y1="284.20" x2="619.50" y2="286.60" stroke="#222" stroke-width="0.9"/>
<line x1="627.50" y1="284.20" x2="627.50" y2="286.60" stroke="#222" stroke-width="0.9"/>
<line x1="635.50" y1="284.20" x2="635.50" y2="286.60" stroke="#222" stroke-width="0.9"/>
<line x1="642.50" y1="284.20" x2="642.50" y2="286.60" stroke="#222" stroke-width="0.9"/>
<line x1="650.50" y1="284.20" x2="650.50" y2="286.60" stroke="#222" stroke-width="0.9"/>
<text x="528.20" y="239.61" font-size="6.69" font-weight="bold" text-anchor="middle" fill="#000" transform="rotate(-90 528.20 237.20)">Relative CellTiter Glo %</text>
<rect x="554.50" y="201.50" width="5.00" height="82.70" fill="#fdeee2" stroke="#f3ad74" stroke-width="1.0"/>
<line x1="556.50" y1="201.50" x2="556.50" y2="201.90" stroke="#f3ad74" stroke-width="0.7"/>
<line x1="555.50" y1="201.50" x2="558.10" y2="201.50" stroke="#f3ad74" stroke-width="0.7"/>
<circle cx="555.60" cy="203.50" r="1.35" fill="#f0a460" stroke="none" stroke-width="0.5"/>
<circle cx="558.00" cy="202.00" r="1.35" fill="#f0a460" stroke="none" stroke-width="0.5"/>
<circle cx="556.80" cy="202.50" r="1.35" fill="#f0a460" stroke="none" stroke-width="0.5"/>
<rect x="562.50" y="204.50" width="4.00" height="79.70" fill="#fdeee2" stroke="#f3ad74" stroke-width="1.0"/>
<line x1="564.50" y1="204.00" x2="564.50" y2="204.50" stroke="#f3ad74" stroke-width="0.7"/>
<line x1="563.40" y1="204.50" x2="566.00" y2="204.50" stroke="#f3ad74" stroke-width="0.7"/>
<circle cx="563.50" cy="205.00" r="1.35" fill="#f0a460" stroke="none" stroke-width="0.5"/>
<circle cx="565.90" cy="205.00" r="1.35" fill="#f0a460" stroke="none" stroke-width="0.5"/>
<circle cx="564.70" cy="205.30" r="1.35" fill="#f0a460" stroke="none" stroke-width="0.5"/>
<rect x="570.50" y="209.50" width="4.00" height="74.70" fill="#fdeee2" stroke="#f3ad74" stroke-width="1.0"/>
<line x1="572.50" y1="206.50" x2="572.50" y2="209.40" stroke="#f3ad74" stroke-width="0.7"/>
<line x1="571.10" y1="206.50" x2="573.70" y2="206.50" stroke="#f3ad74" stroke-width="0.7"/>
<circle cx="571.20" cy="205.40" r="1.35" fill="#f0a460" stroke="none" stroke-width="0.5"/>
<circle cx="573.60" cy="210.10" r="1.35" fill="#f0a460" stroke="none" stroke-width="0.5"/>
<circle cx="572.40" cy="212.40" r="1.35" fill="#f0a460" stroke="none" stroke-width="0.5"/>
<rect x="578.50" y="217.50" width="4.00" height="66.70" fill="#fdeee2" stroke="#f3ad74" stroke-width="1.0"/>
<line x1="580.50" y1="213.50" x2="580.50" y2="217.10" stroke="#f3ad74" stroke-width="0.7"/>
<line x1="579.00" y1="213.50" x2="581.60" y2="213.50" stroke="#f3ad74" stroke-width="0.7"/>
<circle cx="579.10" cy="210.10" r="1.35" fill="#f0a460" stroke="none" stroke-width="0.5"/>
<circle cx="581.50" cy="217.70" r="1.35" fill="#f0a460" stroke="none" stroke-width="0.5"/>
<circle cx="580.30" cy="219.40" r="1.35" fill="#f0a460" stroke="none" stroke-width="0.5"/>
<rect x="585.50" y="204.50" width="5.00" height="79.70" fill="#fdeee2" stroke="#f3ad74" stroke-width="1.0"/>
<line x1="588.50" y1="199.50" x2="588.50" y2="204.50" stroke="#f3ad74" stroke-width="0.7"/>
<line x1="586.80" y1="199.50" x2="589.40" y2="199.50" stroke="#f3ad74" stroke-width="0.7"/>
<circle cx="586.90" cy="197.90" r="1.35" fill="#f0a460" stroke="none" stroke-width="0.5"/>
<circle cx="589.30" cy="205.90" r="1.35" fill="#f0a460" stroke="none" stroke-width="0.5"/>
<circle cx="588.10" cy="206.60" r="1.35" fill="#f0a460" stroke="none" stroke-width="0.5"/>
<rect x="593.50" y="202.50" width="5.00" height="81.70" fill="#fdeee2" stroke="#f3ad74" stroke-width="1.0"/>
<line x1="596.50" y1="199.00" x2="596.50" y2="202.20" stroke="#f3ad74" stroke-width="0.7"/>
<line x1="594.70" y1="199.50" x2="597.30" y2="199.50" stroke="#f3ad74" stroke-width="0.7"/>
<circle cx="594.80" cy="196.10" r="1.35" fill="#f0a460" stroke="none" stroke-width="0.5"/>
<circle cx="597.20" cy="197.50" r="1.35" fill="#f0a460" stroke="none" stroke-width="0.5"/>
<circle cx="596.00" cy="213.30" r="1.35" fill="#f0a460" stroke="none" stroke-width="0.5"/>
<rect x="609.50" y="201.50" width="4.00" height="82.70" fill="#dae5f6" stroke="#3b72cc" stroke-width="1.0"/>
<line x1="611.50" y1="198.00" x2="611.50" y2="201.00" stroke="#3b72cc" stroke-width="0.7"/>
<line x1="610.20" y1="198.50" x2="612.80" y2="198.50" stroke="#3b72cc" stroke-width="0.7"/>
<circle cx="610.30" cy="202.80" r="1.35" fill="#2f6bd0" stroke="none" stroke-width="0.5"/>
<circle cx="612.70" cy="204.50" r="1.35" fill="#2f6bd0" stroke="none" stroke-width="0.5"/>
<circle cx="611.50" cy="197.00" r="1.35" fill="#2f6bd0" stroke="none" stroke-width="0.5"/>
<rect x="616.50" y="207.50" width="5.00" height="76.70" fill="#dae5f6" stroke="#3b72cc" stroke-width="1.0"/>
<line x1="619.50" y1="205.50" x2="619.50" y2="207.20" stroke="#3b72cc" stroke-width="0.7"/>
<line x1="617.90" y1="205.50" x2="620.50" y2="205.50" stroke="#3b72cc" stroke-width="0.7"/>
<circle cx="618.00" cy="206.00" r="1.35" fill="#2f6bd0" stroke="none" stroke-width="0.5"/>
<circle cx="620.40" cy="208.00" r="1.35" fill="#2f6bd0" stroke="none" stroke-width="0.5"/>
<circle cx="619.20" cy="210.10" r="1.35" fill="#2f6bd0" stroke="none" stroke-width="0.5"/>
<rect x="624.50" y="210.50" width="5.00" height="73.70" fill="#dae5f6" stroke="#3b72cc" stroke-width="1.0"/>
<line x1="627.50" y1="207.00" x2="627.50" y2="210.10" stroke="#3b72cc" stroke-width="0.7"/>
<line x1="625.80" y1="207.50" x2="628.40" y2="207.50" stroke="#3b72cc" stroke-width="0.7"/>
<circle cx="625.90" cy="211.20" r="1.35" fill="#2f6bd0" stroke="none" stroke-width="0.5"/>
<circle cx="628.30" cy="213.00" r="1.35" fill="#2f6bd0" stroke="none" stroke-width="0.5"/>
<circle cx="627.10" cy="204.50" r="1.35" fill="#2f6bd0" stroke="none" stroke-width="0.5"/>
<rect x="632.50" y="205.50" width="5.00" height="78.70" fill="#dae5f6" stroke="#3b72cc" stroke-width="1.0"/>
<line x1="635.50" y1="204.00" x2="635.50" y2="205.40" stroke="#3b72cc" stroke-width="0.7"/>
<line x1="633.70" y1="204.50" x2="636.30" y2="204.50" stroke="#3b72cc" stroke-width="0.7"/>
<circle cx="633.80" cy="205.40" r="1.35" fill="#2f6bd0" stroke="none" stroke-width="0.5"/>
<circle cx="636.20" cy="208.00" r="1.35" fill="#2f6bd0" stroke="none" stroke-width="0.5"/>
<circle cx="635.00" cy="203.10" r="1.35" fill="#2f6bd0" stroke="none" stroke-width="0.5"/>
<rect x="640.50" y="205.50" width="5.00" height="78.70" fill="#dae5f6" stroke="#3b72cc" stroke-width="1.0"/>
<line x1="642.50" y1="203.50" x2="642.50" y2="205.40" stroke="#3b72cc" stroke-width="0.7"/>
<line x1="641.50" y1="203.50" x2="644.10" y2="203.50" stroke="#3b72cc" stroke-width="0.7"/>
<circle cx="641.60" cy="205.00" r="1.35" fill="#2f6bd0" stroke="none" stroke-width="0.5"/>
<circle cx="644.00" cy="209.40" r="1.35" fill="#2f6bd0" stroke="none" stroke-width="0.5"/>
<circle cx="642.80" cy="202.80" r="1.35" fill="#2f6bd0" stroke="none" stroke-width="0.5"/>
<rect x="648.50" y="205.50" width="4.00" height="78.70" fill="#dae5f6" stroke="#3b72cc" stroke-width="1.0"/>
<line x1="650.50" y1="204.00" x2="650.50" y2="205.90" stroke="#3b72cc" stroke-width="0.7"/>
<line x1="649.10" y1="204.50" x2="651.70" y2="204.50" stroke="#3b72cc" stroke-width="0.7"/>
<circle cx="649.20" cy="206.60" r="1.35" fill="#2f6bd0" stroke="none" stroke-width="0.5"/>
<circle cx="651.60" cy="207.20" r="1.35" fill="#2f6bd0" stroke="none" stroke-width="0.5"/>
<circle cx="650.40" cy="202.40" r="1.35" fill="#2f6bd0" stroke="none" stroke-width="0.5"/>
<rect x="643.00" y="172.40" width="7.20" height="3.20" fill="#fdeee2" stroke="#f3ad74" stroke-width="0.8"/>
<rect x="643.00" y="181.80" width="7.20" height="3.20" fill="#dae5f6" stroke="#3b72cc" stroke-width="0.8"/>
<text x="655.40" y="176.33" font-size="6.48" text-anchor="start" fill="#000" textLength="11.00" lengthAdjust="spacingAndGlyphs">TAIII</text>
<text x="655.40" y="185.83" font-size="6.48" text-anchor="start" fill="#000" textLength="22.81" lengthAdjust="spacingAndGlyphs">AZD4635</text>
<text x="558.30" y="293.61" font-size="6.7" font-weight="bold" text-anchor="end" fill="#000" transform="rotate(-45 558.30 291.20)">0</text>
<text x="566.20" y="293.61" font-size="6.7" font-weight="bold" text-anchor="end" fill="#000" transform="rotate(-45 566.20 291.20)">0.001</text>
<text x="573.90" y="293.61" font-size="6.7" font-weight="bold" text-anchor="end" fill="#000" transform="rotate(-45 573.90 291.20)">0.03</text>
<text x="581.80" y="293.61" font-size="6.7" font-weight="bold" text-anchor="end" fill="#000" transform="rotate(-45 581.80 291.20)">1</text>
<text x="589.60" y="293.61" font-size="6.7" font-weight="bold" text-anchor="end" fill="#000" transform="rotate(-45 589.60 291.20)">3</text>
<text x="597.50" y="293.61" font-size="6.7" font-weight="bold" text-anchor="end" fill="#000" transform="rotate(-45 597.50 291.20)">10</text>
<text x="613.00" y="293.61" font-size="6.7" font-weight="bold" text-anchor="end" fill="#000" transform="rotate(-45 613.00 291.20)">0</text>
<text x="620.70" y="293.61" font-size="6.7" font-weight="bold" text-anchor="end" fill="#000" transform="rotate(-45 620.70 291.20)">0.001</text>
<text x="628.60" y="293.61" font-size="6.7" font-weight="bold" text-anchor="end" fill="#000" transform="rotate(-45 628.60 291.20)">0.03</text>
<text x="636.50" y="293.61" font-size="6.7" font-weight="bold" text-anchor="end" fill="#000" transform="rotate(-45 636.50 291.20)">1</text>
<text x="644.30" y="293.61" font-size="6.7" font-weight="bold" text-anchor="end" fill="#000" transform="rotate(-45 644.30 291.20)">3</text>
<text x="651.90" y="293.61" font-size="6.7" font-weight="bold" text-anchor="end" fill="#000" transform="rotate(-45 651.90 291.20)">10</text>
<text x="566.60" y="312.57" font-size="6.59" font-weight="bold" text-anchor="start" fill="#000">post-22h treatment [μM]</text>
<text x="9.70" y="315.70" font-size="11.5" font-weight="bold" fill="#000">f</text>
<text x="66.60" y="335.97" font-size="8.26" font-weight="bold" text-anchor="start" fill="#000">LANCE cAMP Assay</text>
<line x1="43.50" y1="346.00" x2="43.50" y2="425.40" stroke="#222" stroke-width="0.9"/>
<line x1="40.20" y1="346.50" x2="43.00" y2="346.50" stroke="#222" stroke-width="0.9"/>
<text x="39.20" y="348.50" font-size="6.1" font-weight="bold" text-anchor="end" fill="#000">40</text>
<line x1="40.20" y1="366.50" x2="43.00" y2="366.50" stroke="#222" stroke-width="0.9"/>
<text x="39.20" y="368.20" font-size="6.1" font-weight="bold" text-anchor="end" fill="#000">30</text>
<line x1="40.20" y1="385.50" x2="43.00" y2="385.50" stroke="#222" stroke-width="0.9"/>
<text x="39.20" y="387.90" font-size="6.1" font-weight="bold" text-anchor="end" fill="#000">20</text>
<line x1="40.20" y1="405.50" x2="43.00" y2="405.50" stroke="#222" stroke-width="0.9"/>
<text x="39.20" y="407.60" font-size="6.1" font-weight="bold" text-anchor="end" fill="#000">10</text>
<line x1="40.20" y1="425.50" x2="43.00" y2="425.50" stroke="#222" stroke-width="0.9"/>
<text x="39.20" y="427.30" font-size="6.1" font-weight="bold" text-anchor="end" fill="#000">0</text>
<line x1="41.32" y1="356.50" x2="43.00" y2="356.50" stroke="#222" stroke-width="0.7200000000000001"/>
<line x1="41.32" y1="375.50" x2="43.00" y2="375.50" stroke="#222" stroke-width="0.7200000000000001"/>
<line x1="41.32" y1="395.50" x2="43.00" y2="395.50" stroke="#222" stroke-width="0.7200000000000001"/>
<line x1="41.32" y1="415.50" x2="43.00" y2="415.50" stroke="#222" stroke-width="0.7200000000000001"/>
<line x1="42.50" y1="425.50" x2="170.30" y2="425.50" stroke="#222" stroke-width="0.9"/>
<line x1="56.50" y1="425.10" x2="56.50" y2="427.10" stroke="#222" stroke-width="0.9"/>
<line x1="73.50" y1="425.10" x2="73.50" y2="427.10" stroke="#222" stroke-width="0.9"/>
<line x1="90.50" y1="425.10" x2="90.50" y2="427.10" stroke="#222" stroke-width="0.9"/>
<line x1="106.50" y1="425.10" x2="106.50" y2="427.10" stroke="#222" stroke-width="0.9"/>
<line x1="123.50" y1="425.10" x2="123.50" y2="427.10" stroke="#222" stroke-width="0.9"/>
<line x1="140.50" y1="425.10" x2="140.50" y2="427.10" stroke="#222" stroke-width="0.9"/>
<line x1="157.50" y1="425.10" x2="157.50" y2="427.10" stroke="#222" stroke-width="0.9"/>
<text x="25.20" y="388.39" font-size="7.46" font-weight="bold" text-anchor="middle" fill="#000" transform="rotate(-90 25.20 385.70)">615nm / 665nm</text>
<rect x="51.90" y="366.60" width="8.20" height="58.50" fill="#fdeee2" stroke="#f3ad74" stroke-width="1.2"/>
<line x1="56.50" y1="365.00" x2="56.50" y2="366.60" stroke="#f3ad74" stroke-width="0.7"/>
<line x1="53.80" y1="365.50" x2="58.20" y2="365.50" stroke="#f3ad74" stroke-width="0.7"/>
<circle cx="53.50" cy="365.50" r="1.45" fill="#f0a460" stroke="none" stroke-width="0.5"/>
<circle cx="58.50" cy="365.50" r="1.45" fill="#f0a460" stroke="none" stroke-width="0.5"/>
<circle cx="53.50" cy="368.60" r="1.45" fill="#f0a460" stroke="none" stroke-width="0.5"/>
<circle cx="58.50" cy="368.60" r="1.45" fill="#f0a460" stroke="none" stroke-width="0.5"/>
<rect x="68.90" y="370.70" width="8.20" height="54.40" fill="#fdeee2" stroke="#f3ad74" stroke-width="1.2"/>
<line x1="73.50" y1="370.00" x2="73.50" y2="370.70" stroke="#f3ad74" stroke-width="0.7"/>
<line x1="70.80" y1="370.50" x2="75.20" y2="370.50" stroke="#f3ad74" stroke-width="0.7"/>
<circle cx="70.50" cy="370.70" r="1.45" fill="#f0a460" stroke="none" stroke-width="0.5"/>
<circle cx="75.50" cy="371.50" r="1.45" fill="#f0a460" stroke="none" stroke-width="0.5"/>
<circle cx="70.50" cy="371.00" r="1.45" fill="#f0a460" stroke="none" stroke-width="0.5"/>
<circle cx="75.50" cy="372.00" r="1.45" fill="#f0a460" stroke="none" stroke-width="0.5"/>
<rect x="86.00" y="374.70" width="8.20" height="50.40" fill="#fdeee2" stroke="#f3ad74" stroke-width="1.2"/>
<line x1="90.50" y1="373.00" x2="90.50" y2="374.70" stroke="#f3ad74" stroke-width="0.7"/>
<line x1="87.90" y1="373.50" x2="92.30" y2="373.50" stroke="#f3ad74" stroke-width="0.7"/>
<circle cx="88.10" cy="373.70" r="1.45" fill="#f0a460" stroke="none" stroke-width="0.5"/>
<circle cx="92.10" cy="375.20" r="1.45" fill="#f0a460" stroke="none" stroke-width="0.5"/>
<circle cx="90.10" cy="379.90" r="1.45" fill="#f0a460" stroke="none" stroke-width="0.5"/>
<rect x="102.60" y="380.90" width="8.20" height="44.20" fill="#fdeee2" stroke="#f3ad74" stroke-width="1.2"/>
<line x1="106.50" y1="374.50" x2="106.50" y2="380.90" stroke="#f3ad74" stroke-width="0.7"/>
<line x1="104.50" y1="374.50" x2="108.90" y2="374.50" stroke="#f3ad74" stroke-width="0.7"/>
<circle cx="104.70" cy="375.20" r="1.45" fill="#f0a460" stroke="none" stroke-width="0.5"/>
<circle cx="108.70" cy="381.90" r="1.45" fill="#f0a460" stroke="none" stroke-width="0.5"/>
<circle cx="106.70" cy="384.00" r="1.45" fill="#f0a460" stroke="none" stroke-width="0.5"/>
<rect x="119.70" y="386.00" width="8.20" height="39.10" fill="#fdeee2" stroke="#f3ad74" stroke-width="1.2"/>
<line x1="123.50" y1="384.00" x2="123.50" y2="386.00" stroke="#f3ad74" stroke-width="0.7"/>
<line x1="121.60" y1="384.50" x2="126.00" y2="384.50" stroke="#f3ad74" stroke-width="0.7"/>
<circle cx="121.80" cy="384.00" r="1.45" fill="#f0a460" stroke="none" stroke-width="0.5"/>
<circle cx="125.80" cy="386.00" r="1.45" fill="#f0a460" stroke="none" stroke-width="0.5"/>
<circle cx="123.80" cy="387.40" r="1.45" fill="#f0a460" stroke="none" stroke-width="0.5"/>
<rect x="136.70" y="394.20" width="8.20" height="30.90" fill="#fdeee2" stroke="#f3ad74" stroke-width="1.2"/>
<line x1="140.50" y1="392.50" x2="140.50" y2="394.20" stroke="#f3ad74" stroke-width="0.7"/>
<line x1="138.60" y1="392.50" x2="143.00" y2="392.50" stroke="#f3ad74" stroke-width="0.7"/>
<circle cx="138.80" cy="392.70" r="1.45" fill="#f0a460" stroke="none" stroke-width="0.5"/>
<circle cx="142.80" cy="394.80" r="1.45" fill="#f0a460" stroke="none" stroke-width="0.5"/>
<circle cx="140.80" cy="395.20" r="1.45" fill="#f0a460" stroke="none" stroke-width="0.5"/>
<rect x="153.70" y="399.70" width="8.20" height="25.40" fill="#dae5f6" stroke="#3b72cc" stroke-width="1.2"/>
<line x1="157.50" y1="396.50" x2="157.50" y2="399.70" stroke="#3b72cc" stroke-width="0.7"/>
<line x1="155.60" y1="396.50" x2="160.00" y2="396.50" stroke="#3b72cc" stroke-width="0.7"/>
<circle cx="155.80" cy="396.80" r="1.45" fill="#2f6bd0" stroke="none" stroke-width="0.5"/>
<circle cx="159.80" cy="399.70" r="1.45" fill="#2f6bd0" stroke="none" stroke-width="0.5"/>
<circle cx="157.80" cy="399.70" r="1.45" fill="#2f6bd0" stroke="none" stroke-width="0.5"/>
<line x1="43.00" y1="413.50" x2="170.00" y2="413.50" stroke="#111" stroke-width="1.0" stroke-dasharray="1 1.6"/>
<text x="64.50" y="362.49" font-size="5.24" text-anchor="start" fill="#000" textLength="14.31" lengthAdjust="spacingAndGlyphs">0.1691</text>
<text x="81.90" y="367.52" font-size="5.6" text-anchor="start" fill="#000" textLength="15.29" lengthAdjust="spacingAndGlyphs">0.0002</text>
<text x="97.60" y="373.65" font-size="5.41" text-anchor="start" fill="#000" textLength="17.59" lengthAdjust="spacingAndGlyphs">&lt;0.0001</text>
<text x="114.00" y="380.95" font-size="5.41" text-anchor="start" fill="#000" textLength="17.59" lengthAdjust="spacingAndGlyphs">&lt;0.0001</text>
<text x="131.00" y="389.16" font-size="5.44" text-anchor="start" fill="#000" textLength="17.70" lengthAdjust="spacingAndGlyphs">&lt;0.0001</text>
<text x="148.30" y="394.23" font-size="5.35" text-anchor="start" fill="#000" textLength="17.41" lengthAdjust="spacingAndGlyphs">&lt;0.0001</text>
<text x="28.90" y="435.34" font-size="6.49" font-weight="bold" text-anchor="start" fill="#000">NECA</text>
<text x="19.70" y="445.22" font-size="6.45" font-weight="bold" text-anchor="start" fill="#000">TAIII [μM]</text>
<text x="5.30" y="456.14" font-size="6.49" font-weight="bold" text-anchor="start" fill="#000">AZD4635 [μM]</text>
<text x="54.60" y="445.40" font-size="6.1" font-weight="bold" text-anchor="middle" fill="#000">0</text>
<text x="54.60" y="436.12" font-size="7.0" font-weight="bold" text-anchor="middle" fill="#000">+</text>
<text x="70.60" y="445.40" font-size="6.1" font-weight="bold" text-anchor="middle" fill="#000">1.25</text>
<text x="70.60" y="436.12" font-size="7.0" font-weight="bold" text-anchor="middle" fill="#000">+</text>
<text x="87.60" y="445.40" font-size="6.1" font-weight="bold" text-anchor="middle" fill="#000">2.5</text>
<text x="87.60" y="436.12" font-size="7.0" font-weight="bold" text-anchor="middle" fill="#000">+</text>
<text x="106.40" y="445.40" font-size="6.1" font-weight="bold" text-anchor="middle" fill="#000">5</text>
<text x="106.40" y="436.12" font-size="7.0" font-weight="bold" text-anchor="middle" fill="#000">+</text>
<text x="122.70" y="445.40" font-size="6.1" font-weight="bold" text-anchor="middle" fill="#000">10</text>
<text x="122.70" y="436.12" font-size="7.0" font-weight="bold" text-anchor="middle" fill="#000">+</text>
<text x="141.20" y="445.40" font-size="6.1" font-weight="bold" text-anchor="middle" fill="#000">20</text>
<text x="141.20" y="436.12" font-size="7.0" font-weight="bold" text-anchor="middle" fill="#000">+</text>
<text x="157.80" y="445.40" font-size="6.1" font-weight="bold" text-anchor="middle" fill="#000">0</text>
<text x="157.80" y="436.12" font-size="7.0" font-weight="bold" text-anchor="middle" fill="#000">+</text>
<text x="54.60" y="456.30" font-size="6.4" font-weight="bold" text-anchor="middle" fill="#000">-</text>
<text x="70.60" y="456.30" font-size="6.4" font-weight="bold" text-anchor="middle" fill="#000">-</text>
<text x="87.60" y="456.30" font-size="6.4" font-weight="bold" text-anchor="middle" fill="#000">-</text>
<text x="106.40" y="456.30" font-size="6.4" font-weight="bold" text-anchor="middle" fill="#000">-</text>
<text x="122.70" y="456.30" font-size="6.4" font-weight="bold" text-anchor="middle" fill="#000">-</text>
<text x="141.20" y="456.30" font-size="6.4" font-weight="bold" text-anchor="middle" fill="#000">-</text>
<text x="157.80" y="458.10" font-size="6.1" font-weight="bold" text-anchor="middle" fill="#000">20</text>
<text x="216.60" y="315.30" font-size="11.5" font-weight="bold" fill="#000">g</text>
<text x="294.00" y="322.04" font-size="7.61" font-weight="bold" text-anchor="start" fill="#000">LANCE cAMP Assay</text>
<line x1="245.50" y1="338.10" x2="245.50" y2="428.00" stroke="#222" stroke-width="0.9"/>
<line x1="243.10" y1="338.50" x2="245.90" y2="338.50" stroke="#222" stroke-width="0.9"/>
<text x="243.40" y="340.56" font-size="6.0" font-weight="bold" text-anchor="end" fill="#000">30</text>
<line x1="243.10" y1="368.50" x2="245.90" y2="368.50" stroke="#222" stroke-width="0.9"/>
<text x="243.40" y="370.86" font-size="6.0" font-weight="bold" text-anchor="end" fill="#000">20</text>
<line x1="243.10" y1="398.50" x2="245.90" y2="398.50" stroke="#222" stroke-width="0.9"/>
<text x="243.40" y="400.66" font-size="6.0" font-weight="bold" text-anchor="end" fill="#000">10</text>
<line x1="243.10" y1="427.50" x2="245.90" y2="427.50" stroke="#222" stroke-width="0.9"/>
<text x="243.40" y="429.86" font-size="6.0" font-weight="bold" text-anchor="end" fill="#000">0</text>
<line x1="244.22" y1="353.50" x2="245.90" y2="353.50" stroke="#222" stroke-width="0.7200000000000001"/>
<line x1="244.22" y1="383.50" x2="245.90" y2="383.50" stroke="#222" stroke-width="0.7200000000000001"/>
<line x1="244.22" y1="413.50" x2="245.90" y2="413.50" stroke="#222" stroke-width="0.7200000000000001"/>
<line x1="245.40" y1="427.50" x2="416.70" y2="427.50" stroke="#222" stroke-width="0.9"/>
<line x1="255.50" y1="427.70" x2="255.50" y2="429.70" stroke="#222" stroke-width="0.9"/>
<line x1="270.50" y1="427.70" x2="270.50" y2="429.70" stroke="#222" stroke-width="0.9"/>
<line x1="285.50" y1="427.70" x2="285.50" y2="429.70" stroke="#222" stroke-width="0.9"/>
<line x1="300.50" y1="427.70" x2="300.50" y2="429.70" stroke="#222" stroke-width="0.9"/>
<line x1="315.50" y1="427.70" x2="315.50" y2="429.70" stroke="#222" stroke-width="0.9"/>
<line x1="345.50" y1="427.70" x2="345.50" y2="429.70" stroke="#222" stroke-width="0.9"/>
<line x1="360.50" y1="427.70" x2="360.50" y2="429.70" stroke="#222" stroke-width="0.9"/>
<line x1="376.50" y1="427.70" x2="376.50" y2="429.70" stroke="#222" stroke-width="0.9"/>
<line x1="391.50" y1="427.70" x2="391.50" y2="429.70" stroke="#222" stroke-width="0.9"/>
<line x1="406.50" y1="427.70" x2="406.50" y2="429.70" stroke="#222" stroke-width="0.9"/>
<text x="226.00" y="386.20" font-size="7.49" font-weight="bold" text-anchor="middle" fill="#000" transform="rotate(-90 226.00 383.50)">615nm / 665nm</text>
<rect x="250.50" y="409.50" width="9.00" height="18.20" fill="#fdeee2" stroke="#f3ad74" stroke-width="1.0"/>
<line x1="255.50" y1="405.30" x2="255.50" y2="413.00" stroke="#f3ad74" stroke-width="0.7"/>
<line x1="253.20" y1="405.50" x2="256.80" y2="405.50" stroke="#f3ad74" stroke-width="0.7"/>
<circle cx="253.50" cy="405.80" r="1.45" fill="#f0a460" stroke="none" stroke-width="0.5"/>
<circle cx="256.50" cy="408.50" r="1.45" fill="#f0a460" stroke="none" stroke-width="0.5"/>
<circle cx="255.00" cy="412.00" r="1.45" fill="#f0a460" stroke="none" stroke-width="0.5"/>
<rect x="265.50" y="374.50" width="9.00" height="53.20" fill="#fdeee2" stroke="#f3ad74" stroke-width="1.0"/>
<line x1="270.50" y1="357.70" x2="270.50" y2="392.80" stroke="#f3ad74" stroke-width="0.7"/>
<line x1="268.60" y1="357.50" x2="272.20" y2="357.50" stroke="#f3ad74" stroke-width="0.7"/>
<circle cx="270.40" cy="358.20" r="1.45" fill="#f0a460" stroke="none" stroke-width="0.5"/>
<circle cx="270.40" cy="372.00" r="1.45" fill="#f0a460" stroke="none" stroke-width="0.5"/>
<circle cx="270.40" cy="391.80" r="1.45" fill="#f0a460" stroke="none" stroke-width="0.5"/>
<rect x="280.50" y="399.50" width="9.00" height="28.20" fill="#fdeee2" stroke="#f3ad74" stroke-width="1.0"/>
<line x1="285.50" y1="390.40" x2="285.50" y2="410.00" stroke="#f3ad74" stroke-width="0.7"/>
<line x1="283.50" y1="390.50" x2="287.10" y2="390.50" stroke="#f3ad74" stroke-width="0.7"/>
<circle cx="283.80" cy="393.90" r="1.45" fill="#f0a460" stroke="none" stroke-width="0.5"/>
<circle cx="286.80" cy="394.80" r="1.45" fill="#f0a460" stroke="none" stroke-width="0.5"/>
<circle cx="285.30" cy="409.00" r="1.45" fill="#f0a460" stroke="none" stroke-width="0.5"/>
<rect x="295.50" y="404.50" width="9.00" height="23.20" fill="#fdeee2" stroke="#f3ad74" stroke-width="1.0"/>
<line x1="300.50" y1="396.60" x2="300.50" y2="414.20" stroke="#f3ad74" stroke-width="0.7"/>
<line x1="298.50" y1="396.50" x2="302.10" y2="396.50" stroke="#f3ad74" stroke-width="0.7"/>
<circle cx="298.80" cy="398.80" r="1.45" fill="#f0a460" stroke="none" stroke-width="0.5"/>
<circle cx="301.80" cy="400.20" r="1.45" fill="#f0a460" stroke="none" stroke-width="0.5"/>
<circle cx="300.30" cy="413.20" r="1.45" fill="#f0a460" stroke="none" stroke-width="0.5"/>
<rect x="310.50" y="407.50" width="9.00" height="20.20" fill="#fdeee2" stroke="#f3ad74" stroke-width="1.0"/>
<line x1="315.50" y1="401.10" x2="315.50" y2="413.00" stroke="#f3ad74" stroke-width="0.7"/>
<line x1="313.60" y1="401.50" x2="317.20" y2="401.50" stroke="#f3ad74" stroke-width="0.7"/>
<circle cx="313.90" cy="401.50" r="1.45" fill="#f0a460" stroke="none" stroke-width="0.5"/>
<circle cx="316.90" cy="408.50" r="1.45" fill="#f0a460" stroke="none" stroke-width="0.5"/>
<circle cx="315.40" cy="412.00" r="1.45" fill="#f0a460" stroke="none" stroke-width="0.5"/>
<rect x="341.50" y="408.50" width="9.00" height="19.20" fill="#dae5f6" stroke="#3b72cc" stroke-width="1.0"/>
<line x1="345.50" y1="405.50" x2="345.50" y2="408.50" stroke="#3b72cc" stroke-width="0.7"/>
<line x1="343.80" y1="405.50" x2="347.40" y2="405.50" stroke="#3b72cc" stroke-width="0.7"/>
<circle cx="343.60" cy="405.80" r="1.45" fill="#2f6bd0" stroke="none" stroke-width="0.5"/>
<circle cx="346.10" cy="407.20" r="1.45" fill="#2f6bd0" stroke="none" stroke-width="0.5"/>
<circle cx="348.10" cy="407.60" r="1.45" fill="#2f6bd0" stroke="none" stroke-width="0.5"/>
<rect x="356.50" y="407.50" width="9.00" height="20.20" fill="#dae5f6" stroke="#3b72cc" stroke-width="1.0"/>
<line x1="360.50" y1="405.00" x2="360.50" y2="407.60" stroke="#3b72cc" stroke-width="0.7"/>
<line x1="359.10" y1="405.50" x2="362.70" y2="405.50" stroke="#3b72cc" stroke-width="0.7"/>
<circle cx="358.90" cy="405.00" r="1.45" fill="#2f6bd0" stroke="none" stroke-width="0.5"/>
<circle cx="361.40" cy="407.10" r="1.45" fill="#2f6bd0" stroke="none" stroke-width="0.5"/>
<circle cx="363.40" cy="407.60" r="1.45" fill="#2f6bd0" stroke="none" stroke-width="0.5"/>
<rect x="371.50" y="408.50" width="9.00" height="19.20" fill="#dae5f6" stroke="#3b72cc" stroke-width="1.0"/>
<line x1="376.50" y1="403.70" x2="376.50" y2="408.50" stroke="#3b72cc" stroke-width="0.7"/>
<line x1="374.20" y1="403.50" x2="377.80" y2="403.50" stroke="#3b72cc" stroke-width="0.7"/>
<circle cx="376.00" cy="404.10" r="1.45" fill="#2f6bd0" stroke="none" stroke-width="0.5"/>
<circle cx="374.50" cy="409.30" r="1.45" fill="#2f6bd0" stroke="none" stroke-width="0.5"/>
<circle cx="377.50" cy="412.30" r="1.45" fill="#2f6bd0" stroke="none" stroke-width="0.5"/>
<rect x="386.50" y="409.50" width="9.00" height="18.20" fill="#dae5f6" stroke="#3b72cc" stroke-width="1.0"/>
<line x1="391.50" y1="403.20" x2="391.50" y2="409.00" stroke="#3b72cc" stroke-width="0.7"/>
<line x1="389.20" y1="403.50" x2="392.80" y2="403.50" stroke="#3b72cc" stroke-width="0.7"/>
<circle cx="391.00" cy="403.20" r="1.45" fill="#2f6bd0" stroke="none" stroke-width="0.5"/>
<circle cx="389.50" cy="410.20" r="1.45" fill="#2f6bd0" stroke="none" stroke-width="0.5"/>
<circle cx="392.50" cy="410.50" r="1.45" fill="#2f6bd0" stroke="none" stroke-width="0.5"/>
<rect x="401.50" y="409.50" width="9.00" height="18.20" fill="#dae5f6" stroke="#3b72cc" stroke-width="1.0"/>
<line x1="406.50" y1="405.80" x2="406.50" y2="409.30" stroke="#3b72cc" stroke-width="0.7"/>
<line x1="404.20" y1="405.50" x2="407.80" y2="405.50" stroke="#3b72cc" stroke-width="0.7"/>
<circle cx="406.00" cy="405.80" r="1.45" fill="#2f6bd0" stroke="none" stroke-width="0.5"/>
<circle cx="404.50" cy="410.70" r="1.45" fill="#2f6bd0" stroke="none" stroke-width="0.5"/>
<circle cx="407.50" cy="410.70" r="1.45" fill="#2f6bd0" stroke="none" stroke-width="0.5"/>
<line x1="245.70" y1="412.50" x2="416.70" y2="412.50" stroke="#ccc" stroke-width="0.6"/>
<line x1="245.70" y1="412.50" x2="416.70" y2="412.50" stroke="#555" stroke-width="1.0" stroke-dasharray="0.8 1.6"/>
<text x="416.90" y="414.43" font-size="5.91" font-weight="bold" text-anchor="start" fill="#000">Blank</text>
<text x="176.20" y="415.22" font-size="6.17" font-weight="bold" text-anchor="start" fill="#000">Blank</text>
<rect x="375.20" y="332.10" width="6.60" height="3.20" fill="#fdeee2" stroke="#f3ad74" stroke-width="0.8"/>
<rect x="375.20" y="341.00" width="6.60" height="3.20" fill="#dae5f6" stroke="#3b72cc" stroke-width="0.8"/>
<text x="386.00" y="336.04" font-size="5.67" font-weight="bold" text-anchor="start" fill="#000">A2AR-OE</text>
<text x="386.00" y="344.56" font-size="6.01" font-weight="bold" text-anchor="start" fill="#000">Parental</text>
<line x1="270.20" y1="333.50" x2="315.60" y2="333.50" stroke="#555" stroke-width="0.9"/>
<text x="284.60" y="331.00" font-size="5.28" text-anchor="start" fill="#000" textLength="17.48" lengthAdjust="spacingAndGlyphs">&lt;0.0001</text>
<line x1="270.20" y1="344.50" x2="285.40" y2="344.50" stroke="#555" stroke-width="0.9"/>
<text x="270.20" y="342.07" font-size="5.47" text-anchor="start" fill="#000" textLength="15.20" lengthAdjust="spacingAndGlyphs">0.0016</text>
<line x1="255.10" y1="352.50" x2="270.20" y2="352.50" stroke="#555" stroke-width="0.9"/>
<text x="253.90" y="350.80" font-size="5.28" text-anchor="start" fill="#000" textLength="17.48" lengthAdjust="spacingAndGlyphs">&lt;0.0001</text>
<line x1="270.20" y1="356.50" x2="300.70" y2="356.50" stroke="#555" stroke-width="0.9"/>
<text x="277.60" y="353.53" font-size="5.64" text-anchor="start" fill="#000" textLength="15.69" lengthAdjust="spacingAndGlyphs">0.0002</text>
<line x1="361.20" y1="377.50" x2="405.90" y2="377.50" stroke="#555" stroke-width="0.9"/>
<text x="375.90" y="374.89" font-size="5.54" text-anchor="start" fill="#000" textLength="15.41" lengthAdjust="spacingAndGlyphs">0.9973</text>
<line x1="346.10" y1="386.50" x2="360.70" y2="386.50" stroke="#555" stroke-width="0.9"/>
<text x="344.00" y="384.07" font-size="5.74" text-anchor="start" fill="#000" textLength="19.01" lengthAdjust="spacingAndGlyphs">&gt;0.9999</text>
<line x1="361.20" y1="390.50" x2="390.80" y2="390.50" stroke="#555" stroke-width="0.9"/>
<text x="367.70" y="388.03" font-size="5.64" text-anchor="start" fill="#000" textLength="15.69" lengthAdjust="spacingAndGlyphs">0.9994</text>
<line x1="361.20" y1="399.50" x2="375.90" y2="399.50" stroke="#555" stroke-width="0.9"/>
<text x="358.90" y="397.34" font-size="5.68" text-anchor="start" fill="#000" textLength="18.79" lengthAdjust="spacingAndGlyphs">&gt;0.9999</text>
<text x="229.00" y="440.09" font-size="6.07" font-weight="bold" text-anchor="start" fill="#000">NECA</text>
<text x="233.90" y="450.12" font-size="5.88" font-weight="bold" text-anchor="start" fill="#000">TAIII</text>
<text x="225.30" y="460.36" font-size="6.27" font-weight="bold" text-anchor="start" fill="#000">CPI444</text>
<text x="220.70" y="470.95" font-size="5.96" font-weight="bold" text-anchor="start" fill="#000">AZD4635</text>
<text x="255.00" y="440.20" font-size="6.4" font-weight="bold" text-anchor="middle" fill="#000">-</text>
<text x="270.40" y="440.42" font-size="7.0" font-weight="bold" text-anchor="middle" fill="#000">+</text>
<text x="285.10" y="440.42" font-size="7.0" font-weight="bold" text-anchor="middle" fill="#000">+</text>
<text x="299.80" y="440.42" font-size="7.0" font-weight="bold" text-anchor="middle" fill="#000">+</text>
<text x="314.80" y="440.42" font-size="7.0" font-weight="bold" text-anchor="middle" fill="#000">+</text>
<text x="345.80" y="440.20" font-size="6.4" font-weight="bold" text-anchor="middle" fill="#000">-</text>
<text x="361.10" y="440.42" font-size="7.0" font-weight="bold" text-anchor="middle" fill="#000">+</text>
<text x="376.20" y="440.42" font-size="7.0" font-weight="bold" text-anchor="middle" fill="#000">+</text>
<text x="390.90" y="440.42" font-size="7.0" font-weight="bold" text-anchor="middle" fill="#000">+</text>
<text x="405.60" y="440.42" font-size="7.0" font-weight="bold" text-anchor="middle" fill="#000">+</text>
<text x="255.00" y="450.30" font-size="6.4" font-weight="bold" text-anchor="middle" fill="#000">-</text>
<text x="270.40" y="450.30" font-size="6.4" font-weight="bold" text-anchor="middle" fill="#000">-</text>
<text x="285.10" y="450.52" font-size="7.0" font-weight="bold" text-anchor="middle" fill="#000">+</text>
<text x="299.80" y="450.30" font-size="6.4" font-weight="bold" text-anchor="middle" fill="#000">-</text>
<text x="314.80" y="450.30" font-size="6.4" font-weight="bold" text-anchor="middle" fill="#000">-</text>
<text x="345.80" y="450.30" font-size="6.4" font-weight="bold" text-anchor="middle" fill="#000">-</text>
<text x="361.10" y="450.30" font-size="6.4" font-weight="bold" text-anchor="middle" fill="#000">-</text>
<text x="376.20" y="450.52" font-size="7.0" font-weight="bold" text-anchor="middle" fill="#000">+</text>
<text x="390.90" y="450.30" font-size="6.4" font-weight="bold" text-anchor="middle" fill="#000">-</text>
<text x="405.60" y="450.30" font-size="6.4" font-weight="bold" text-anchor="middle" fill="#000">-</text>
<text x="255.00" y="460.40" font-size="6.4" font-weight="bold" text-anchor="middle" fill="#000">-</text>
<text x="270.40" y="460.40" font-size="6.4" font-weight="bold" text-anchor="middle" fill="#000">-</text>
<text x="285.10" y="460.40" font-size="6.4" font-weight="bold" text-anchor="middle" fill="#000">-</text>
<text x="299.80" y="460.62" font-size="7.0" font-weight="bold" text-anchor="middle" fill="#000">+</text>
<text x="314.80" y="460.40" font-size="6.4" font-weight="bold" text-anchor="middle" fill="#000">-</text>
<text x="345.80" y="460.40" font-size="6.4" font-weight="bold" text-anchor="middle" fill="#000">-</text>
<text x="361.10" y="460.40" font-size="6.4" font-weight="bold" text-anchor="middle" fill="#000">-</text>
<text x="376.20" y="460.40" font-size="6.4" font-weight="bold" text-anchor="middle" fill="#000">-</text>
<text x="390.90" y="460.62" font-size="7.0" font-weight="bold" text-anchor="middle" fill="#000">+</text>
<text x="405.60" y="460.40" font-size="6.4" font-weight="bold" text-anchor="middle" fill="#000">-</text>
<text x="255.00" y="471.10" font-size="6.4" font-weight="bold" text-anchor="middle" fill="#000">-</text>
<text x="270.40" y="471.10" font-size="6.4" font-weight="bold" text-anchor="middle" fill="#000">-</text>
<text x="285.10" y="471.10" font-size="6.4" font-weight="bold" text-anchor="middle" fill="#000">-</text>
<text x="299.80" y="471.10" font-size="6.4" font-weight="bold" text-anchor="middle" fill="#000">-</text>
<text x="314.80" y="471.32" font-size="7.0" font-weight="bold" text-anchor="middle" fill="#000">+</text>
<text x="345.80" y="471.10" font-size="6.4" font-weight="bold" text-anchor="middle" fill="#000">-</text>
<text x="361.10" y="471.10" font-size="6.4" font-weight="bold" text-anchor="middle" fill="#000">-</text>
<text x="376.20" y="471.10" font-size="6.4" font-weight="bold" text-anchor="middle" fill="#000">-</text>
<text x="390.90" y="471.10" font-size="6.4" font-weight="bold" text-anchor="middle" fill="#000">-</text>
<text x="405.60" y="471.32" font-size="7.0" font-weight="bold" text-anchor="middle" fill="#000">+</text>
<text x="495.60" y="358.10" font-size="11.5" font-weight="bold" fill="#000">h</text>
<rect x="502.00" y="362.00" width="93.00" height="92.00" fill="#fcfcfc" stroke="none" stroke-width="0.8"/>
<rect x="597.00" y="362.00" width="68.00" height="113.00" fill="#fcfcfc" stroke="none" stroke-width="0.8"/>
<g filter="url(#bl20)">
<path d="M514,380 C522,368 545,366 560,370 C575,374 590,385 592,400 C594,420 588,436 570,442 C550,447 525,444 515,432 C507,420 506,395 514,380 Z" stroke="none" stroke-width="0.8" fill="#dbf5ec"/>
<path d="M603,372 C615,364 645,364 656,376 C664,392 663,430 659,455 C655,470 632,474 614,470 C601,465 599,440 600,410 C600,392 599,380 603,372 Z" stroke="none" stroke-width="0.8" fill="#dbf5ec"/>
</g>
<g filter="url(#bl10)" fill="#c9efe1">
<circle cx="552.9" cy="428.1" r="3.4"/>
<circle cx="529.6" cy="391.6" r="2.7"/>
<circle cx="582.0" cy="408.3" r="3.1"/>
<circle cx="554.3" cy="435.8" r="3.7"/>
<circle cx="563.1" cy="388.3" r="4.1"/>
<circle cx="566.8" cy="425.4" r="4.7"/>
<circle cx="522.0" cy="402.3" r="4.2"/>
<circle cx="578.2" cy="416.2" r="4.0"/>
<circle cx="549.1" cy="411.0" r="4.7"/>
<circle cx="522.6" cy="410.3" r="4.7"/>
<circle cx="543.7" cy="377.9" r="3.5"/>
<circle cx="558.1" cy="387.0" r="4.8"/>
<circle cx="558.7" cy="399.5" r="2.8"/>
<circle cx="557.9" cy="434.8" r="3.6"/>
<circle cx="537.9" cy="394.2" r="3.8"/>
<circle cx="535.8" cy="417.7" r="4.0"/>
<circle cx="523.1" cy="391.6" r="4.2"/>
<circle cx="579.4" cy="394.0" r="5.0"/>
<circle cx="544.5" cy="395.3" r="4.7"/>
<circle cx="582.5" cy="399.7" r="3.9"/>
<circle cx="547.5" cy="392.6" r="4.6"/>
<circle cx="534.8" cy="398.9" r="2.7"/>
<circle cx="571.6" cy="382.3" r="2.7"/>
<circle cx="557.8" cy="387.7" r="2.9"/>
<circle cx="542.9" cy="431.3" r="4.7"/>
<circle cx="576.6" cy="412.4" r="2.6"/>
<circle cx="547.1" cy="389.1" r="4.7"/>
<circle cx="575.0" cy="403.4" r="5.0"/>
<circle cx="547.5" cy="413.7" r="4.0"/>
<circle cx="565.8" cy="408.6" r="3.5"/>
<circle cx="540.7" cy="398.4" r="2.6"/>
<circle cx="563.8" cy="393.6" r="4.9"/>
<circle cx="567.6" cy="394.9" r="3.7"/>
<circle cx="523.9" cy="403.0" r="4.0"/>
<circle cx="526.1" cy="397.4" r="4.9"/>
<circle cx="528.7" cy="405.1" r="4.3"/>
<circle cx="552.4" cy="422.4" r="4.9"/>
<circle cx="526.0" cy="403.1" r="2.5"/>
<circle cx="528.7" cy="417.6" r="2.6"/>
<circle cx="530.8" cy="390.1" r="2.7"/>
<circle cx="534.8" cy="391.3" r="4.2"/>
<circle cx="533.8" cy="426.2" r="4.3"/>
<circle cx="559.3" cy="407.0" r="4.2"/>
<circle cx="567.6" cy="402.6" r="3.6"/>
<circle cx="534.9" cy="396.7" r="3.4"/>
<circle cx="543.1" cy="422.8" r="4.0"/>
<circle cx="544.5" cy="423.5" r="4.4"/>
<circle cx="576.3" cy="409.8" r="4.3"/>
<circle cx="545.1" cy="419.2" r="4.5"/>
<circle cx="552.0" cy="419.0" r="3.6"/>
<circle cx="547.5" cy="396.9" r="3.3"/>
<circle cx="535.4" cy="429.7" r="3.6"/>
<circle cx="559.6" cy="396.3" r="3.3"/>
<circle cx="532.2" cy="383.1" r="3.6"/>
<circle cx="552.8" cy="416.3" r="3.8"/>
<circle cx="562.1" cy="431.1" r="4.6"/>
<circle cx="558.3" cy="420.5" r="4.5"/>
<circle cx="531.8" cy="385.0" r="3.4"/>
<circle cx="563.6" cy="417.8" r="4.5"/>
<circle cx="548.3" cy="423.5" r="3.5"/>
<circle cx="626.2" cy="410.5" r="4.8"/>
<circle cx="612.3" cy="372.4" r="4.9"/>
<circle cx="650.6" cy="464.8" r="3.6"/>
<circle cx="654.4" cy="459.2" r="3.1"/>
<circle cx="643.5" cy="450.6" r="4.2"/>
<circle cx="631.5" cy="399.2" r="3.4"/>
<circle cx="616.1" cy="378.4" r="4.0"/>
<circle cx="619.2" cy="448.2" r="2.6"/>
<circle cx="651.9" cy="437.2" r="4.8"/>
<circle cx="651.5" cy="456.6" r="3.9"/>
<circle cx="604.7" cy="442.1" r="2.9"/>
<circle cx="619.9" cy="434.3" r="3.8"/>
<circle cx="625.9" cy="460.3" r="4.0"/>
<circle cx="622.1" cy="395.7" r="4.7"/>
<circle cx="629.3" cy="445.5" r="3.4"/>
<circle cx="614.5" cy="422.3" r="4.5"/>
<circle cx="613.1" cy="446.4" r="4.8"/>
<circle cx="646.7" cy="449.4" r="2.5"/>
<circle cx="637.3" cy="453.1" r="2.6"/>
<circle cx="618.4" cy="397.2" r="3.8"/>
<circle cx="626.4" cy="416.5" r="4.4"/>
<circle cx="604.1" cy="377.2" r="2.8"/>
<circle cx="610.6" cy="378.4" r="4.9"/>
<circle cx="649.3" cy="380.1" r="3.8"/>
<circle cx="620.7" cy="401.6" r="3.4"/>
<circle cx="638.3" cy="427.1" r="3.4"/>
<circle cx="614.1" cy="402.9" r="2.8"/>
<circle cx="633.4" cy="439.3" r="3.5"/>
<circle cx="608.2" cy="388.8" r="3.4"/>
<circle cx="636.0" cy="445.6" r="3.5"/>
<circle cx="646.5" cy="430.6" r="3.6"/>
<circle cx="623.7" cy="418.6" r="4.3"/>
<circle cx="626.3" cy="437.2" r="3.7"/>
<circle cx="617.0" cy="422.4" r="4.2"/>
<circle cx="607.8" cy="411.9" r="3.6"/>
<circle cx="650.6" cy="460.0" r="3.4"/>
<circle cx="651.6" cy="446.3" r="3.2"/>
<circle cx="628.6" cy="383.6" r="4.5"/>
<circle cx="639.1" cy="455.4" r="4.5"/>
<circle cx="639.4" cy="441.0" r="3.9"/>
<circle cx="609.5" cy="427.2" r="2.5"/>
<circle cx="611.6" cy="444.8" r="2.6"/>
<circle cx="608.9" cy="381.3" r="4.7"/>
<circle cx="613.5" cy="374.2" r="4.6"/>
<circle cx="610.4" cy="451.3" r="4.2"/>
<circle cx="648.3" cy="461.5" r="3.9"/>
<circle cx="646.3" cy="375.4" r="4.4"/>
<circle cx="631.1" cy="439.2" r="2.8"/>
<circle cx="643.7" cy="459.8" r="2.7"/>
<circle cx="621.2" cy="425.0" r="4.6"/>
<circle cx="616.8" cy="388.9" r="3.1"/>
<circle cx="636.6" cy="442.8" r="3.5"/>
<circle cx="623.5" cy="409.3" r="3.4"/>
<circle cx="626.2" cy="379.8" r="3.8"/>
<circle cx="655.6" cy="410.8" r="4.4"/>
<circle cx="612.5" cy="436.9" r="4.4"/>
<circle cx="639.7" cy="420.6" r="3.7"/>
<circle cx="638.1" cy="456.4" r="2.9"/>
<circle cx="609.1" cy="442.3" r="4.8"/>
<circle cx="631.4" cy="413.6" r="4.3"/>
<circle cx="613.9" cy="397.1" r="3.0"/>
<circle cx="635.0" cy="401.6" r="3.1"/>
<circle cx="640.6" cy="461.6" r="3.2"/>
<circle cx="641.4" cy="410.8" r="4.6"/>
<circle cx="635.0" cy="397.1" r="3.0"/>
<circle cx="605.2" cy="417.1" r="3.5"/>
<circle cx="613.1" cy="405.9" r="3.3"/>
<circle cx="645.0" cy="385.5" r="5.0"/>
<circle cx="629.4" cy="428.3" r="3.7"/>
<circle cx="648.2" cy="449.2" r="3.9"/>
</g>
<path d="M532,376 C536,372 542,373 546,378 C549,383 548,388 552,392 M519,434 C522,440 530,441 540,437 M555,398 C559,404 565,404 569,398 M521,390 C517,392 518,397 521,399 M545,428 C552,432 560,432 566,426" stroke="#32a882" stroke-width="1.3" fill="none"/>
<line x1="523.00" y1="392.20" x2="541.00" y2="399.80" stroke="#32a882" stroke-width="6.3" stroke-linecap="round"/>
<line x1="522.56" y1="393.24" x2="540.56" y2="400.84" stroke="#45b892" stroke-width="1.575" stroke-linecap="round" stroke-opacity="0.6"/>
<line x1="528.60" y1="397.70" x2="542.40" y2="406.00" stroke="#32a882" stroke-width="5.5" stroke-linecap="round"/>
<line x1="535.00" y1="402.00" x2="539.00" y2="418.50" stroke="#32a882" stroke-width="5.5" stroke-linecap="round"/>
<line x1="521.60" y1="410.20" x2="538.30" y2="428.30" stroke="#32a882" stroke-width="6.2" stroke-linecap="round"/>
<line x1="520.78" y1="410.96" x2="537.48" y2="429.06" stroke="#45b892" stroke-width="1.55" stroke-linecap="round" stroke-opacity="0.6"/>
<line x1="521.60" y1="427.00" x2="552.20" y2="428.00" stroke="#32a882" stroke-width="6.2" stroke-linecap="round"/>
<line x1="521.56" y1="428.12" x2="552.16" y2="429.12" stroke="#45b892" stroke-width="1.55" stroke-linecap="round" stroke-opacity="0.6"/>
<line x1="550.80" y1="428.30" x2="589.60" y2="403.30" stroke="#32a882" stroke-width="6.2" stroke-linecap="round"/>
<line x1="551.40" y1="429.24" x2="590.20" y2="404.24" stroke="#45b892" stroke-width="1.55" stroke-linecap="round" stroke-opacity="0.6"/>
<line x1="566.70" y1="397.70" x2="570.90" y2="415.80" stroke="#32a882" stroke-width="5.6" stroke-linecap="round"/>
<line x1="546.60" y1="399.80" x2="550.80" y2="406.00" stroke="#32a882" stroke-width="4.5" stroke-linecap="round"/>
<circle cx="555.60" cy="401.20" r="3.40" fill="#40c49c" stroke="none" stroke-width="0.5"/>
<circle cx="548.00" cy="384.00" r="2.10" fill="#d08888" stroke="none" stroke-width="0.5"/>
<circle cx="551.00" cy="386.00" r="2.10" fill="#d08888" stroke="none" stroke-width="0.5"/>
<circle cx="554.00" cy="383.00" r="2.10" fill="#d08888" stroke="none" stroke-width="0.5"/>
<circle cx="557.00" cy="386.00" r="2.10" fill="#d08888" stroke="none" stroke-width="0.5"/>
<circle cx="560.00" cy="384.00" r="2.10" fill="#d08888" stroke="none" stroke-width="0.5"/>
<circle cx="563.00" cy="382.00" r="2.10" fill="#d08888" stroke="none" stroke-width="0.5"/>
<circle cx="552.00" cy="389.00" r="2.10" fill="#d08888" stroke="none" stroke-width="0.5"/>
<circle cx="556.00" cy="390.00" r="2.10" fill="#d08888" stroke="none" stroke-width="0.5"/>
<circle cx="560.00" cy="389.00" r="2.10" fill="#d08888" stroke="none" stroke-width="0.5"/>
<circle cx="564.00" cy="387.00" r="2.10" fill="#d08888" stroke="none" stroke-width="0.5"/>
<circle cx="566.00" cy="384.00" r="2.10" fill="#d08888" stroke="none" stroke-width="0.5"/>
<circle cx="553.00" cy="392.00" r="1.80" fill="#8fbfae" stroke="none" stroke-width="0.5"/>
<circle cx="558.00" cy="393.00" r="1.80" fill="#8fbfae" stroke="none" stroke-width="0.5"/>
<circle cx="562.00" cy="392.00" r="1.80" fill="#8fbfae" stroke="none" stroke-width="0.5"/>
<circle cx="549.50" cy="383.20" r="0.70" fill="#f3c7c7" stroke="none" stroke-width="0.5"/>
<circle cx="555.00" cy="382.40" r="0.70" fill="#f3c7c7" stroke="none" stroke-width="0.5"/>
<circle cx="561.00" cy="383.00" r="0.70" fill="#f3c7c7" stroke="none" stroke-width="0.5"/>
<circle cx="557.00" cy="389.00" r="0.70" fill="#f3c7c7" stroke="none" stroke-width="0.5"/>
<line x1="613.30" y1="386.10" x2="608.50" y2="438.60" stroke="#3fc49b" stroke-width="5.6" stroke-linecap="round"/>
<line x1="612.30" y1="386.01" x2="607.50" y2="438.51" stroke="#7fe0c0" stroke-width="1.4" stroke-linecap="round" stroke-opacity="0.6"/>
<line x1="619.20" y1="381.30" x2="614.30" y2="449.30" stroke="#3fc49b" stroke-width="5.6" stroke-linecap="round"/>
<line x1="618.19" y1="381.23" x2="613.29" y2="449.23" stroke="#7fe0c0" stroke-width="1.4" stroke-linecap="round" stroke-opacity="0.6"/>
<line x1="628.00" y1="374.50" x2="630.00" y2="446.40" stroke="#3fc49b" stroke-width="5.8" stroke-linecap="round"/>
<line x1="626.96" y1="374.53" x2="628.96" y2="446.43" stroke="#7fe0c0" stroke-width="1.45" stroke-linecap="round" stroke-opacity="0.6"/>
<line x1="636.00" y1="389.00" x2="642.50" y2="458.00" stroke="#3fc49b" stroke-width="5.8" stroke-linecap="round"/>
<line x1="634.96" y1="389.10" x2="641.46" y2="458.10" stroke="#7fe0c0" stroke-width="1.45" stroke-linecap="round" stroke-opacity="0.6"/>
<line x1="634.00" y1="391.00" x2="661.00" y2="401.70" stroke="#3fc49b" stroke-width="5.6" stroke-linecap="round"/>
<line x1="633.63" y1="391.94" x2="660.63" y2="402.64" stroke="#7fe0c0" stroke-width="1.4" stroke-linecap="round" stroke-opacity="0.6"/>
<line x1="606.50" y1="386.10" x2="615.30" y2="384.20" stroke="#3fc49b" stroke-width="5.2" stroke-linecap="round"/>
<line x1="615.30" y1="460.00" x2="626.00" y2="466.80" stroke="#3fc49b" stroke-width="5.2" stroke-linecap="round"/>
<line x1="633.80" y1="419.20" x2="635.70" y2="446.40" stroke="#3fc49b" stroke-width="4.8" stroke-linecap="round"/>
<path d="M608,452 C612,458 620,458 628,452 M604,448 C602,456 606,460 612,462" stroke="#32a882" stroke-width="1.0" fill="none"/>
<path d="M616,395 Q624,391 634,393 L632,398 Q627,404 628,412 Q629,420 627,424 L622,423 Q619,416 618,410 Q616,402 616,395 Z" stroke="none" stroke-width="0.8" fill="#d65e5e"/>
<circle cx="618.00" cy="396.00" r="2.20" fill="#e07070" stroke="none" stroke-width="0.5"/>
<circle cx="622.00" cy="395.00" r="2.20" fill="#e07070" stroke="none" stroke-width="0.5"/>
<circle cx="626.00" cy="396.00" r="2.20" fill="#e07070" stroke="none" stroke-width="0.5"/>
<circle cx="630.00" cy="395.00" r="2.20" fill="#e07070" stroke="none" stroke-width="0.5"/>
<circle cx="633.00" cy="394.00" r="2.20" fill="#e07070" stroke="none" stroke-width="0.5"/>
<circle cx="619.00" cy="400.00" r="2.20" fill="#e07070" stroke="none" stroke-width="0.5"/>
<circle cx="623.00" cy="401.00" r="2.20" fill="#e07070" stroke="none" stroke-width="0.5"/>
<circle cx="627.00" cy="400.00" r="2.20" fill="#e07070" stroke="none" stroke-width="0.5"/>
<circle cx="620.00" cy="405.00" r="2.20" fill="#e07070" stroke="none" stroke-width="0.5"/>
<circle cx="624.00" cy="406.00" r="2.20" fill="#e07070" stroke="none" stroke-width="0.5"/>
<circle cx="621.00" cy="410.00" r="2.20" fill="#e07070" stroke="none" stroke-width="0.5"/>
<circle cx="625.00" cy="411.00" r="2.20" fill="#e07070" stroke="none" stroke-width="0.5"/>
<circle cx="622.00" cy="415.00" r="2.20" fill="#e07070" stroke="none" stroke-width="0.5"/>
<circle cx="626.00" cy="416.00" r="2.20" fill="#e07070" stroke="none" stroke-width="0.5"/>
<circle cx="624.00" cy="420.00" r="2.20" fill="#e07070" stroke="none" stroke-width="0.5"/>
<circle cx="627.00" cy="422.00" r="2.20" fill="#e07070" stroke="none" stroke-width="0.5"/>
<circle cx="619.00" cy="413.00" r="2.20" fill="#e07070" stroke="none" stroke-width="0.5"/>
<circle cx="628.00" cy="406.00" r="2.20" fill="#e07070" stroke="none" stroke-width="0.5"/>
<circle cx="617.50" cy="395.00" r="0.80" fill="#f6d0d0" stroke="none" stroke-width="0.5"/>
<circle cx="621.50" cy="399.50" r="0.80" fill="#f6d0d0" stroke="none" stroke-width="0.5"/>
<circle cx="619.50" cy="404.00" r="0.80" fill="#f6d0d0" stroke="none" stroke-width="0.5"/>
<circle cx="621.00" cy="409.00" r="0.80" fill="#f6d0d0" stroke="none" stroke-width="0.5"/>
<circle cx="623.00" cy="414.50" r="0.80" fill="#f6d0d0" stroke="none" stroke-width="0.5"/>
<circle cx="625.50" cy="419.50" r="0.80" fill="#f6d0d0" stroke="none" stroke-width="0.5"/>
<circle cx="629.50" cy="394.00" r="0.80" fill="#f6d0d0" stroke="none" stroke-width="0.5"/>
<text x="575.60" y="442.93" font-size="4.8" text-anchor="start" fill="#333">90°</text>
<path d="M587,447 L587,442 Q587,439.5 590,439.5 L591.5,439.5" stroke="#1e8f6c" stroke-width="1.8" fill="none"/>
<path d="M591,437 L594,439.5 L591,442 Z" stroke="none" stroke-width="0.8" fill="#1e8f6c"/>
<clipPath id="dock"><rect x="507" y="492" width="94" height="94"/></clipPath>
<g clip-path="url(#dock)">
<rect x="507.00" y="492.00" width="94.00" height="94.00" fill="#a8e5d0" stroke="none" stroke-width="0.8"/>
<g filter="url(#bl15)">
<path d="M505,490 L603,490 L603,503 L575,508 L545,510 L520,508 L505,510 Z" stroke="none" stroke-width="0.8" fill="#e6f1ed"/>
<path d="M527,510 L568,506 L572,530 L566,560 L552,560 L538,530 Z" stroke="none" stroke-width="0.8" fill="#d6f0e7"/>
<path d="M570,530 L578,530 L584,586 L574,586 Z" stroke="none" stroke-width="0.8" fill="#d3efe6"/>
</g>
<path d="M505,492 L514,492 Q517,500 515,509 L505,512 Z" stroke="none" stroke-width="0.8" fill="#6ad6b4"/>
<path d="M510.5,590 L510.5,510 Q518.5,503 526.5,510 L526.5,590 Z" stroke="none" stroke-width="0.8" fill="#5dd3ad"/>
<line x1="517.50" y1="514.00" x2="517.50" y2="588.00" stroke="#8ae2c4" stroke-width="2.5"/>
<rect x="505.00" y="495.00" width="4.00" height="95.00" fill="#6ad6b4" stroke="none" stroke-width="0.8"/>
<path d="M527,540 L540,536 L550,590 L532,590 Z" stroke="none" stroke-width="0.8" fill="#8edfc3"/>
<path d="M533,531 Q540,522 550,527 L572,590 L546,590 Z" stroke="none" stroke-width="0.8" fill="#5dd3ad"/>
<path d="M571,510 Q579,503 588,509 L603,590 L576,590 Z" stroke="none" stroke-width="0.8" fill="#5dd3ad"/>
<ellipse cx="565" cy="497" rx="10" ry="7" fill="#5dd3ad"/>
<line x1="545.00" y1="535.00" x2="562.00" y2="585.00" stroke="#86e0c1" stroke-width="2.0"/>
<line x1="582.00" y1="515.00" x2="592.00" y2="585.00" stroke="#86e0c1" stroke-width="2.0"/>
</g>
<polyline points="534.00,509.00 536.00,514.00 539.00,519.00 541.00,524.00 544.00,530.00 546.00,536.00 548.00,542.00 549.00,548.00 550.00,554.00 551.00,560.00 553.00,566.00 556.00,571.00 559.00,576.00 562.00,579.00" stroke="#e08a86" stroke-width="3.6" fill="none" stroke-linejoin="round"/>
<polyline points="539.00,514.00 545.00,513.00 550.00,511.00 556.00,512.00 561.00,510.00 566.00,511.00 571.00,511.00" stroke="#e08a86" stroke-width="3.0" fill="none" stroke-linejoin="round"/>
<polyline points="544.00,532.00 548.00,538.00 546.00,546.00 550.00,552.00 547.00,558.00 552.00,564.00" stroke="#e08a86" stroke-width="2.6" fill="none" stroke-linejoin="round"/>
<polyline points="556.00,571.00 560.00,568.00 564.00,572.00 561.00,578.00" stroke="#d86060" stroke-width="1.4" fill="none" stroke-linejoin="round"/>
<g>
<circle cx="534.00" cy="509.00" r="1.50" fill="#d66c6c" stroke="none" stroke-width="0.5"/>
<circle cx="536.00" cy="514.00" r="1.50" fill="#d66c6c" stroke="none" stroke-width="0.5"/>
<circle cx="539.00" cy="519.00" r="1.50" fill="#d66c6c" stroke="none" stroke-width="0.5"/>
<circle cx="541.00" cy="524.00" r="1.50" fill="#d66c6c" stroke="none" stroke-width="0.5"/>
<circle cx="544.00" cy="530.00" r="1.50" fill="#d66c6c" stroke="none" stroke-width="0.5"/>
<circle cx="546.00" cy="536.00" r="1.50" fill="#d66c6c" stroke="none" stroke-width="0.5"/>
<circle cx="548.00" cy="542.00" r="1.50" fill="#d66c6c" stroke="none" stroke-width="0.5"/>
<circle cx="549.00" cy="548.00" r="1.50" fill="#d66c6c" stroke="none" stroke-width="0.5"/>
<circle cx="550.00" cy="554.00" r="1.50" fill="#d66c6c" stroke="none" stroke-width="0.5"/>
<circle cx="551.00" cy="560.00" r="1.50" fill="#d66c6c" stroke="none" stroke-width="0.5"/>
<circle cx="553.00" cy="566.00" r="1.50" fill="#d66c6c" stroke="none" stroke-width="0.5"/>
<circle cx="556.00" cy="571.00" r="1.50" fill="#d66c6c" stroke="none" stroke-width="0.5"/>
<circle cx="559.00" cy="576.00" r="1.50" fill="#d66c6c" stroke="none" stroke-width="0.5"/>
<circle cx="562.00" cy="579.00" r="1.50" fill="#d66c6c" stroke="none" stroke-width="0.5"/>
<circle cx="539.00" cy="514.00" r="1.50" fill="#d66c6c" stroke="none" stroke-width="0.5"/>
<circle cx="545.00" cy="513.00" r="1.50" fill="#d66c6c" stroke="none" stroke-width="0.5"/>
<circle cx="550.00" cy="511.00" r="1.50" fill="#d66c6c" stroke="none" stroke-width="0.5"/>
<circle cx="556.00" cy="512.00" r="1.50" fill="#d66c6c" stroke="none" stroke-width="0.5"/>
<circle cx="561.00" cy="510.00" r="1.50" fill="#d66c6c" stroke="none" stroke-width="0.5"/>
<circle cx="566.00" cy="511.00" r="1.50" fill="#d66c6c" stroke="none" stroke-width="0.5"/>
<circle cx="571.00" cy="511.00" r="1.50" fill="#d66c6c" stroke="none" stroke-width="0.5"/>
<circle cx="548.00" cy="538.00" r="1.50" fill="#d66c6c" stroke="none" stroke-width="0.5"/>
<circle cx="546.00" cy="546.00" r="1.50" fill="#d66c6c" stroke="none" stroke-width="0.5"/>
<circle cx="547.00" cy="558.00" r="1.50" fill="#d66c6c" stroke="none" stroke-width="0.5"/>
<circle cx="560.00" cy="568.00" r="1.50" fill="#d66c6c" stroke="none" stroke-width="0.5"/>
<circle cx="564.00" cy="572.00" r="1.50" fill="#d66c6c" stroke="none" stroke-width="0.5"/>
<circle cx="536.00" cy="508.00" r="1.50" fill="#d66c6c" stroke="none" stroke-width="0.5"/>
<circle cx="541.00" cy="507.00" r="1.50" fill="#d66c6c" stroke="none" stroke-width="0.5"/>
<circle cx="533.50" cy="508.50" r="0.50" fill="#f2c4c4" stroke="none" stroke-width="0.5"/>
<circle cx="538.50" cy="518.50" r="0.50" fill="#f2c4c4" stroke="none" stroke-width="0.5"/>
<circle cx="543.50" cy="529.50" r="0.50" fill="#f2c4c4" stroke="none" stroke-width="0.5"/>
<circle cx="547.50" cy="541.50" r="0.50" fill="#f2c4c4" stroke="none" stroke-width="0.5"/>
<circle cx="549.50" cy="553.50" r="0.50" fill="#f2c4c4" stroke="none" stroke-width="0.5"/>
<circle cx="552.50" cy="565.50" r="0.50" fill="#f2c4c4" stroke="none" stroke-width="0.5"/>
<circle cx="558.50" cy="575.50" r="0.50" fill="#f2c4c4" stroke="none" stroke-width="0.5"/>
</g>
<circle cx="537.50" cy="511.00" r="1.10" fill="#2a3ad0" stroke="none" stroke-width="0.5"/>
<circle cx="552.50" cy="559.50" r="1.00" fill="#2a3ad0" stroke="none" stroke-width="0.5"/>
<circle cx="573.00" cy="511.50" r="0.90" fill="#2a3ad0" stroke="none" stroke-width="0.5"/>
<circle cx="571.00" cy="520.50" r="0.90" fill="#2a3ad0" stroke="none" stroke-width="0.5"/>
<circle cx="573.50" cy="505.00" r="0.90" fill="#2a3ad0" stroke="none" stroke-width="0.5"/>
<polyline points="555.00,503.00 558.00,507.00 563.00,506.00 567.00,504.00 572.00,505.00" stroke="#e8e020" stroke-width="1.7" fill="none" stroke-linejoin="round"/>
<polyline points="576.00,515.00 580.00,520.00 576.00,526.00 570.00,529.00 567.00,531.00" stroke="#e8e020" stroke-width="1.7" fill="none" stroke-linejoin="round"/>
<polyline points="527.00,529.00 531.00,524.00 535.00,521.00 538.00,514.00" stroke="#e8e020" stroke-width="1.7" fill="none" stroke-linejoin="round"/>
<polyline points="526.00,543.00 529.00,546.00 533.00,545.00 529.00,549.00 529.00,552.00" stroke="#e8e020" stroke-width="1.7" fill="none" stroke-linejoin="round"/>
<polyline points="525.00,568.00 531.00,564.00 536.00,563.00" stroke="#e8e020" stroke-width="1.7" fill="none" stroke-linejoin="round"/>
<polyline points="540.00,518.00 542.00,526.00 545.00,528.00" stroke="#e8e020" stroke-width="1.7" fill="none" stroke-linejoin="round"/>
<polyline points="536.00,560.00 540.00,558.00 544.00,563.00 547.00,566.00 545.00,572.00 540.00,572.00 536.00,567.00 536.00,560.00" stroke="#e8e020" stroke-width="1.7" fill="none" stroke-linejoin="round"/>
<polyline points="548.00,546.00 551.00,550.00" stroke="#e8e020" stroke-width="1.7" fill="none" stroke-linejoin="round"/>
<text x="549.00" y="502.74" font-size="3.44" text-anchor="start" fill="#111">Q38</text>
<text x="573.70" y="512.92" font-size="3.94" text-anchor="start" fill="#111">W132</text>
<text x="534.80" y="532.06" font-size="4.05" text-anchor="start" fill="#111">Y43</text>
<text x="525.30" y="536.11" font-size="4.75" text-anchor="start" fill="#111">K122</text>
<text x="526.80" y="552.93" font-size="4.52" text-anchor="start" fill="#111">I125</text>
<text x="551.50" y="548.37" font-size="3.54" text-anchor="start" fill="#111">S47</text>
<text x="526.00" y="573.15" font-size="4.59" text-anchor="start" fill="#111">W129</text>
<rect x="608.60" y="485.20" width="73.90" height="51.40" fill="none" stroke="#999" stroke-width="0.6" stroke-dasharray="1.6 1.2"/>
<rect x="608.60" y="540.20" width="73.90" height="51.90" fill="none" stroke="#999" stroke-width="0.6" stroke-dasharray="1.6 1.2"/>
<text x="617.50" y="497.68" font-size="6.32" font-weight="bold" text-anchor="start" fill="#000">cholesterol</text>
<text x="622.90" y="552.58" font-size="5.78" font-weight="bold" text-anchor="start" fill="#000">TAIII</text>
<polyline points="628.30,517.80 633.24,520.65 633.24,526.35 628.30,529.20 623.36,526.35 623.36,520.65 628.30,517.80" stroke="#333" stroke-width="0.45" fill="none" stroke-linejoin="round"/>
<polyline points="638.17,517.80 643.11,520.65 643.11,526.35 638.17,529.20 633.24,526.35 633.24,520.65 638.17,517.80" stroke="#333" stroke-width="0.45" fill="none" stroke-linejoin="round"/>
<polyline points="643.11,509.25 648.05,512.10 648.05,517.80 643.11,520.65 638.17,517.80 638.17,512.10 643.11,509.25" stroke="#333" stroke-width="0.45" fill="none" stroke-linejoin="round"/>
<polyline points="648.05,512.10 653.46,510.39 656.88,514.95 653.46,519.51 648.05,517.80" stroke="#333" stroke-width="0.45" fill="none" stroke-linejoin="round"/>
<line x1="633.50" y1="520.65" x2="633.50" y2="515.52" stroke="#333" stroke-width="0.45"/>
<line x1="648.50" y1="512.10" x2="648.50" y2="506.97" stroke="#333" stroke-width="0.45"/>
<line x1="623.36" y1="526.35" x2="617.09" y2="528.63" stroke="#333" stroke-width="0.45"/>
<polyline points="653.46,510.39 656.16,506.19 661.46,505.59 664.36,500.39 668.96,499.19 671.96,494.19 677.76,494.39" stroke="#333" stroke-width="0.45" fill="none" stroke-linejoin="round"/>
<line x1="656.16" y1="506.19" x2="655.56" y2="501.19" stroke="#333" stroke-width="0.45"/>
<line x1="671.96" y1="494.19" x2="669.26" y2="490.09" stroke="#333" stroke-width="0.45"/>
<line x1="636.67" y1="527.77" x2="640.67" y2="526.63" stroke="#333" stroke-width="0.45"/>
<polyline points="635.00,569.20 639.59,571.85 639.59,577.15 635.00,579.80 630.41,577.15 630.41,571.85 635.00,569.20" stroke="#333" stroke-width="0.45" fill="none" stroke-linejoin="round"/>
<polyline points="644.18,569.20 648.77,571.85 648.77,577.15 644.18,579.80 639.59,577.15 639.59,571.85 644.18,569.20" stroke="#333" stroke-width="0.45" fill="none" stroke-linejoin="round"/>
<polyline points="648.77,561.25 653.36,563.90 653.36,569.20 648.77,571.85 644.18,569.20 644.18,563.90 648.77,561.25" stroke="#333" stroke-width="0.45" fill="none" stroke-linejoin="round"/>
<polyline points="653.36,563.90 658.39,562.31 661.57,566.55 658.39,570.79 653.36,569.20" stroke="#333" stroke-width="0.45" fill="none" stroke-linejoin="round"/>
<line x1="639.50" y1="571.85" x2="639.50" y2="567.08" stroke="#333" stroke-width="0.45"/>
<line x1="653.50" y1="563.90" x2="653.50" y2="559.13" stroke="#333" stroke-width="0.45"/>
<line x1="630.41" y1="577.15" x2="624.58" y2="579.27" stroke="#333" stroke-width="0.45"/>
<polyline points="658.39,562.31 660.50,558.40 664.40,560.50 665.00,566.00 661.57,566.55" stroke="#333" stroke-width="0.45" fill="none" stroke-linejoin="round"/>
<line x1="660.50" y1="558.40" x2="659.60" y2="554.80" stroke="#333" stroke-width="0.45"/>
<polyline points="664.53,560.35 664.53,555.65 668.60,553.30 672.67,555.65 672.67,560.35 668.60,562.70 664.53,560.35" stroke="#333" stroke-width="0.45" fill="none" stroke-linejoin="round"/>
<line x1="672.67" y1="555.65" x2="675.80" y2="553.50" stroke="#333" stroke-width="0.45"/>
<text x="665.20" y="567.14" font-size="2.6" text-anchor="start" fill="#333">O</text>
<text x="662.93" y="556.59" font-size="2.6" text-anchor="start" fill="#333">O</text>
<text x="612.00" y="531.01" font-size="2.8" text-anchor="start" fill="#333">HO</text>
<text x="612.00" y="581.01" font-size="2.8" text-anchor="start" fill="#333">glc-gal-O</text>
<text x="10.50" y="506.40" font-size="11.5" font-weight="bold" fill="#000">i</text>
<text x="54.40" y="530.40" font-size="7.22" font-weight="bold" text-anchor="start" fill="#000">CREB-Fluc-reporter</text>
<line x1="39.50" y1="541.30" x2="39.50" y2="618.80" stroke="#222" stroke-width="0.9"/>
<line x1="36.40" y1="541.50" x2="39.50" y2="541.50" stroke="#222" stroke-width="0.9"/>
<text x="32.60" y="544.36" font-size="7.1" font-weight="bold" text-anchor="end" fill="#000">10</text>
<text x="33.00" y="540.85" font-size="4.3" font-weight="bold" text-anchor="start" fill="#000">7</text>
<line x1="36.40" y1="552.50" x2="39.50" y2="552.50" stroke="#222" stroke-width="0.9"/>
<text x="32.60" y="555.26" font-size="7.1" font-weight="bold" text-anchor="end" fill="#000">10</text>
<text x="33.00" y="551.75" font-size="4.3" font-weight="bold" text-anchor="start" fill="#000">6</text>
<line x1="36.40" y1="563.50" x2="39.50" y2="563.50" stroke="#222" stroke-width="0.9"/>
<text x="32.60" y="566.06" font-size="7.1" font-weight="bold" text-anchor="end" fill="#000">10</text>
<text x="33.00" y="562.55" font-size="4.3" font-weight="bold" text-anchor="start" fill="#000">5</text>
<line x1="36.40" y1="574.50" x2="39.50" y2="574.50" stroke="#222" stroke-width="0.9"/>
<text x="32.60" y="577.36" font-size="7.1" font-weight="bold" text-anchor="end" fill="#000">10</text>
<text x="33.00" y="573.85" font-size="4.3" font-weight="bold" text-anchor="start" fill="#000">4</text>
<line x1="36.40" y1="585.50" x2="39.50" y2="585.50" stroke="#222" stroke-width="0.9"/>
<text x="32.60" y="587.96" font-size="7.1" font-weight="bold" text-anchor="end" fill="#000">10</text>
<text x="33.00" y="584.45" font-size="4.3" font-weight="bold" text-anchor="start" fill="#000">3</text>
<line x1="36.40" y1="596.50" x2="39.50" y2="596.50" stroke="#222" stroke-width="0.9"/>
<text x="32.60" y="599.16" font-size="7.1" font-weight="bold" text-anchor="end" fill="#000">10</text>
<text x="33.00" y="595.65" font-size="4.3" font-weight="bold" text-anchor="start" fill="#000">2</text>
<line x1="36.40" y1="607.50" x2="39.50" y2="607.50" stroke="#222" stroke-width="0.9"/>
<text x="32.60" y="610.06" font-size="7.1" font-weight="bold" text-anchor="end" fill="#000">10</text>
<text x="33.00" y="606.55" font-size="4.3" font-weight="bold" text-anchor="start" fill="#000">1</text>
<line x1="36.40" y1="618.50" x2="39.50" y2="618.50" stroke="#222" stroke-width="0.9"/>
<text x="32.60" y="621.26" font-size="7.1" font-weight="bold" text-anchor="end" fill="#000">10</text>
<text x="33.00" y="617.75" font-size="4.3" font-weight="bold" text-anchor="start" fill="#000">0</text>
<line x1="39.00" y1="618.50" x2="136.80" y2="618.50" stroke="#222" stroke-width="0.9"/>
<line x1="51.50" y1="618.50" x2="51.50" y2="620.70" stroke="#222" stroke-width="0.9"/>
<line x1="70.50" y1="618.50" x2="70.50" y2="620.70" stroke="#222" stroke-width="0.9"/>
<line x1="88.50" y1="618.50" x2="88.50" y2="620.70" stroke="#222" stroke-width="0.9"/>
<line x1="106.50" y1="618.50" x2="106.50" y2="620.70" stroke="#222" stroke-width="0.9"/>
<line x1="124.50" y1="618.50" x2="124.50" y2="620.70" stroke="#222" stroke-width="0.9"/>
<text x="16.90" y="582.07" font-size="7.14" font-weight="bold" text-anchor="middle" fill="#000" transform="rotate(-90 16.90 579.50)">Luciferase activity</text>
<rect x="46.70" y="588.20" width="10.20" height="30.30" fill="#fff" stroke="#111" stroke-width="1.6"/>
<circle cx="48.80" cy="588.20" r="1.70" fill="#111" stroke="none" stroke-width="0.5"/>
<circle cx="51.80" cy="587.60" r="1.70" fill="#111" stroke="none" stroke-width="0.5"/>
<circle cx="54.80" cy="588.20" r="1.70" fill="#111" stroke="none" stroke-width="0.5"/>
<rect x="65.00" y="545.30" width="10.20" height="73.20" fill="#e4e4e4" stroke="#707070" stroke-width="1.6"/>
<circle cx="67.10" cy="545.30" r="1.70" fill="#666666" stroke="none" stroke-width="0.5"/>
<circle cx="70.10" cy="544.70" r="1.70" fill="#666666" stroke="none" stroke-width="0.5"/>
<circle cx="73.10" cy="545.30" r="1.70" fill="#666666" stroke="none" stroke-width="0.5"/>
<rect x="83.00" y="546.30" width="10.20" height="72.20" fill="#dcf8ef" stroke="#22b890" stroke-width="1.6"/>
<circle cx="85.10" cy="546.30" r="1.70" fill="#18b083" stroke="none" stroke-width="0.5"/>
<circle cx="88.10" cy="545.70" r="1.70" fill="#18b083" stroke="none" stroke-width="0.5"/>
<circle cx="91.10" cy="546.30" r="1.70" fill="#18b083" stroke="none" stroke-width="0.5"/>
<rect x="101.30" y="556.20" width="10.20" height="62.30" fill="#fdeee2" stroke="#f3ad74" stroke-width="1.6"/>
<circle cx="103.40" cy="556.20" r="1.70" fill="#f0a460" stroke="none" stroke-width="0.5"/>
<circle cx="106.40" cy="555.60" r="1.70" fill="#f0a460" stroke="none" stroke-width="0.5"/>
<circle cx="109.40" cy="556.20" r="1.70" fill="#f0a460" stroke="none" stroke-width="0.5"/>
<rect x="119.30" y="560.70" width="10.20" height="57.80" fill="#f4eafa" stroke="#9a4cc3" stroke-width="1.6"/>
<circle cx="121.40" cy="560.70" r="1.70" fill="#9440bf" stroke="none" stroke-width="0.5"/>
<circle cx="124.40" cy="560.10" r="1.70" fill="#9440bf" stroke="none" stroke-width="0.5"/>
<circle cx="127.40" cy="560.70" r="1.70" fill="#9440bf" stroke="none" stroke-width="0.5"/>
<text x="53.40" y="627.18" font-size="6.6" font-weight="bold" text-anchor="end" fill="#000" transform="rotate(-45 53.40 624.80)">Mock</text>
<text x="71.70" y="627.18" font-size="6.6" font-weight="bold" text-anchor="end" fill="#000" transform="rotate(-45 71.70 624.80)">WT</text>
<text x="89.70" y="627.18" font-size="6.6" font-weight="bold" text-anchor="end" fill="#000" transform="rotate(-45 89.70 624.80)">S47A</text>
<text x="108.00" y="627.18" font-size="6.6" font-weight="bold" text-anchor="end" fill="#000" transform="rotate(-45 108.00 624.80)">K122A</text>
<text x="126.00" y="627.18" font-size="6.6" font-weight="bold" text-anchor="end" fill="#000" transform="rotate(-45 126.00 624.80)">W129A</text>
<rect x="145.80" y="545.40" width="6.50" height="2.60" fill="#fff" stroke="#111" stroke-width="1.1"/>
<text x="158.10" y="549.12" font-size="6.72" text-anchor="start" fill="#000" textLength="13.38" lengthAdjust="spacingAndGlyphs">Mock</text>
<rect x="145.80" y="556.20" width="6.50" height="2.60" fill="#e4e4e4" stroke="#707070" stroke-width="1.1"/>
<text x="158.10" y="559.92" font-size="6.72" text-anchor="start" fill="#000" textLength="8.71" lengthAdjust="spacingAndGlyphs">WT</text>
<rect x="145.80" y="566.40" width="6.50" height="2.60" fill="#dcf8ef" stroke="#22b890" stroke-width="1.1"/>
<text x="158.10" y="570.12" font-size="6.72" text-anchor="start" fill="#000" textLength="13.70" lengthAdjust="spacingAndGlyphs">S47A</text>
<rect x="145.80" y="576.70" width="6.50" height="2.60" fill="#fdeee2" stroke="#f3ad74" stroke-width="1.1"/>
<text x="158.10" y="580.42" font-size="6.72" text-anchor="start" fill="#000" textLength="16.81" lengthAdjust="spacingAndGlyphs">K122A</text>
<rect x="145.80" y="587.20" width="6.50" height="2.60" fill="#f4eafa" stroke="#9a4cc3" stroke-width="1.1"/>
<text x="158.10" y="590.92" font-size="6.72" text-anchor="start" fill="#000" textLength="18.36" lengthAdjust="spacingAndGlyphs">W129A</text>
<line x1="174.50" y1="544.90" x2="174.50" y2="559.50" stroke="#111" stroke-width="0.7"/>
<text x="178.80" y="553.47" font-size="7.43" text-anchor="middle" fill="#000" transform="rotate(90 178.80 550.80)" textLength="22.18" lengthAdjust="spacingAndGlyphs">&lt;0.0001</text>
<line x1="183.50" y1="556.60" x2="183.50" y2="568.30" stroke="#111" stroke-width="0.7"/>
<text x="187.30" y="565.56" font-size="6.98" text-anchor="middle" fill="#000" transform="rotate(90 187.30 563.05)" textLength="17.49" lengthAdjust="spacingAndGlyphs">0.0065</text>
<line x1="193.50" y1="556.60" x2="193.50" y2="578.80" stroke="#111" stroke-width="0.7"/>
<text x="197.20" y="568.72" font-size="6.87" text-anchor="middle" fill="#000" transform="rotate(90 197.20 566.25)" textLength="20.51" lengthAdjust="spacingAndGlyphs">&lt;0.0001</text>
<line x1="203.50" y1="557.20" x2="203.50" y2="589.90" stroke="#111" stroke-width="0.7"/>
<text x="209.30" y="574.33" font-size="7.04" text-anchor="middle" fill="#000" transform="rotate(90 209.30 571.80)" textLength="21.02" lengthAdjust="spacingAndGlyphs">&lt;0.0001</text>
<text x="218.60" y="506.50" font-size="11.5" font-weight="bold" fill="#000">j</text>
<text x="324.80" y="499.43" font-size="7.87" font-weight="bold" text-anchor="start" fill="#000">CREB-Fluc-reporter</text>
<line x1="266.50" y1="535.90" x2="266.50" y2="620.10" stroke="#222" stroke-width="0.9"/>
<line x1="262.40" y1="536.50" x2="266.00" y2="536.50" stroke="#222" stroke-width="0.9"/>
<text x="257.90" y="538.50" font-size="6.4" font-weight="bold" text-anchor="end" fill="#000">1×10</text>
<text x="258.40" y="535.40" font-size="3.9" font-weight="bold" text-anchor="start" fill="#000">5</text>
<line x1="262.40" y1="552.50" x2="266.00" y2="552.50" stroke="#222" stroke-width="0.9"/>
<text x="257.90" y="555.20" font-size="6.4" font-weight="bold" text-anchor="end" fill="#000">8×10</text>
<text x="258.40" y="552.10" font-size="3.9" font-weight="bold" text-anchor="start" fill="#000">4</text>
<line x1="262.40" y1="569.50" x2="266.00" y2="569.50" stroke="#222" stroke-width="0.9"/>
<text x="257.90" y="572.20" font-size="6.4" font-weight="bold" text-anchor="end" fill="#000">6×10</text>
<text x="258.40" y="569.10" font-size="3.9" font-weight="bold" text-anchor="start" fill="#000">4</text>
<line x1="262.40" y1="586.50" x2="266.00" y2="586.50" stroke="#222" stroke-width="0.9"/>
<text x="257.90" y="588.90" font-size="6.4" font-weight="bold" text-anchor="end" fill="#000">4×10</text>
<text x="258.40" y="585.80" font-size="3.9" font-weight="bold" text-anchor="start" fill="#000">4</text>
<line x1="262.40" y1="603.50" x2="266.00" y2="603.50" stroke="#222" stroke-width="0.9"/>
<text x="257.90" y="605.60" font-size="6.4" font-weight="bold" text-anchor="end" fill="#000">2×10</text>
<text x="258.40" y="602.50" font-size="3.9" font-weight="bold" text-anchor="start" fill="#000">4</text>
<line x1="262.40" y1="619.50" x2="266.00" y2="619.50" stroke="#222" stroke-width="0.9"/>
<text x="261.60" y="622.10" font-size="6.4" font-weight="bold" text-anchor="end" fill="#000">0</text>
<rect x="269.90" y="559.80" width="5.80" height="60.00" fill="#e4e4e4" stroke="#5a5a5a" stroke-width="1.2"/>
<line x1="272.50" y1="559.00" x2="272.50" y2="559.80" stroke="#5a5a5a" stroke-width="0.7"/>
<line x1="271.30" y1="559.50" x2="274.30" y2="559.50" stroke="#5a5a5a" stroke-width="0.7"/>
<circle cx="271.40" cy="558.80" r="1.40" fill="#666666" stroke="none" stroke-width="0.5"/>
<circle cx="274.20" cy="559.20" r="1.40" fill="#666666" stroke="none" stroke-width="0.5"/>
<circle cx="272.80" cy="559.80" r="1.40" fill="#666666" stroke="none" stroke-width="0.5"/>
<rect x="280.50" y="573.30" width="5.80" height="46.50" fill="#e4e4e4" stroke="#5a5a5a" stroke-width="1.2"/>
<line x1="283.50" y1="563.50" x2="283.50" y2="573.30" stroke="#5a5a5a" stroke-width="0.7"/>
<line x1="281.90" y1="563.50" x2="284.90" y2="563.50" stroke="#5a5a5a" stroke-width="0.7"/>
<circle cx="282.00" cy="565.00" r="1.40" fill="#666666" stroke="none" stroke-width="0.5"/>
<circle cx="284.80" cy="572.50" r="1.40" fill="#666666" stroke="none" stroke-width="0.5"/>
<circle cx="283.40" cy="577.50" r="1.40" fill="#666666" stroke="none" stroke-width="0.5"/>
<rect x="290.80" y="570.10" width="5.80" height="49.70" fill="#e4e4e4" stroke="#5a5a5a" stroke-width="1.2"/>
<line x1="293.50" y1="567.50" x2="293.50" y2="570.10" stroke="#5a5a5a" stroke-width="0.7"/>
<line x1="292.20" y1="567.50" x2="295.20" y2="567.50" stroke="#5a5a5a" stroke-width="0.7"/>
<circle cx="292.30" cy="567.80" r="1.40" fill="#666666" stroke="none" stroke-width="0.5"/>
<circle cx="295.10" cy="569.00" r="1.40" fill="#666666" stroke="none" stroke-width="0.5"/>
<circle cx="293.70" cy="571.00" r="1.40" fill="#666666" stroke="none" stroke-width="0.5"/>
<rect x="301.10" y="583.20" width="5.80" height="36.60" fill="#e4e4e4" stroke="#5a5a5a" stroke-width="1.2"/>
<line x1="304.50" y1="582.00" x2="304.50" y2="583.20" stroke="#5a5a5a" stroke-width="0.7"/>
<line x1="302.50" y1="582.50" x2="305.50" y2="582.50" stroke="#5a5a5a" stroke-width="0.7"/>
<circle cx="302.60" cy="582.00" r="1.40" fill="#666666" stroke="none" stroke-width="0.5"/>
<circle cx="305.40" cy="582.60" r="1.40" fill="#666666" stroke="none" stroke-width="0.5"/>
<circle cx="304.00" cy="583.50" r="1.40" fill="#666666" stroke="none" stroke-width="0.5"/>
<rect x="318.50" y="553.40" width="5.80" height="66.40" fill="#dcf8ef" stroke="#22b890" stroke-width="1.2"/>
<line x1="321.50" y1="551.50" x2="321.50" y2="553.40" stroke="#22b890" stroke-width="0.7"/>
<line x1="319.90" y1="551.50" x2="322.90" y2="551.50" stroke="#22b890" stroke-width="0.7"/>
<circle cx="320.00" cy="552.00" r="1.40" fill="#18b083" stroke="none" stroke-width="0.5"/>
<circle cx="322.80" cy="552.80" r="1.40" fill="#18b083" stroke="none" stroke-width="0.5"/>
<circle cx="321.40" cy="553.50" r="1.40" fill="#18b083" stroke="none" stroke-width="0.5"/>
<rect x="329.10" y="558.40" width="5.80" height="61.40" fill="#dcf8ef" stroke="#22b890" stroke-width="1.2"/>
<line x1="332.50" y1="555.50" x2="332.50" y2="558.40" stroke="#22b890" stroke-width="0.7"/>
<line x1="330.50" y1="555.50" x2="333.50" y2="555.50" stroke="#22b890" stroke-width="0.7"/>
<circle cx="330.60" cy="555.50" r="1.40" fill="#18b083" stroke="none" stroke-width="0.5"/>
<circle cx="333.40" cy="557.00" r="1.40" fill="#18b083" stroke="none" stroke-width="0.5"/>
<circle cx="332.00" cy="564.50" r="1.40" fill="#18b083" stroke="none" stroke-width="0.5"/>
<rect x="339.50" y="562.40" width="5.80" height="57.40" fill="#dcf8ef" stroke="#22b890" stroke-width="1.2"/>
<line x1="342.50" y1="559.30" x2="342.50" y2="562.40" stroke="#22b890" stroke-width="0.7"/>
<line x1="340.90" y1="559.50" x2="343.90" y2="559.50" stroke="#22b890" stroke-width="0.7"/>
<circle cx="341.00" cy="556.40" r="1.40" fill="#18b083" stroke="none" stroke-width="0.5"/>
<circle cx="343.80" cy="563.00" r="1.40" fill="#18b083" stroke="none" stroke-width="0.5"/>
<circle cx="342.40" cy="565.30" r="1.40" fill="#18b083" stroke="none" stroke-width="0.5"/>
<rect x="349.90" y="569.70" width="5.80" height="50.10" fill="#dcf8ef" stroke="#22b890" stroke-width="1.2"/>
<line x1="352.50" y1="566.00" x2="352.50" y2="569.70" stroke="#22b890" stroke-width="0.7"/>
<line x1="351.30" y1="566.50" x2="354.30" y2="566.50" stroke="#22b890" stroke-width="0.7"/>
<circle cx="351.40" cy="562.60" r="1.40" fill="#18b083" stroke="none" stroke-width="0.5"/>
<circle cx="354.20" cy="571.90" r="1.40" fill="#18b083" stroke="none" stroke-width="0.5"/>
<circle cx="352.80" cy="575.20" r="1.40" fill="#18b083" stroke="none" stroke-width="0.5"/>
<rect x="367.10" y="588.90" width="5.80" height="30.90" fill="#fdeee2" stroke="#f3ad74" stroke-width="1.2"/>
<line x1="370.50" y1="585.80" x2="370.50" y2="588.90" stroke="#f3ad74" stroke-width="0.7"/>
<line x1="368.50" y1="585.50" x2="371.50" y2="585.50" stroke="#f3ad74" stroke-width="0.7"/>
<circle cx="368.60" cy="586.30" r="1.40" fill="#f0a460" stroke="none" stroke-width="0.5"/>
<circle cx="371.40" cy="588.50" r="1.40" fill="#f0a460" stroke="none" stroke-width="0.5"/>
<circle cx="370.00" cy="591.80" r="1.40" fill="#f0a460" stroke="none" stroke-width="0.5"/>
<rect x="377.40" y="595.10" width="5.80" height="24.70" fill="#fdeee2" stroke="#f3ad74" stroke-width="1.2"/>
<line x1="380.50" y1="592.50" x2="380.50" y2="595.10" stroke="#f3ad74" stroke-width="0.7"/>
<line x1="378.80" y1="592.50" x2="381.80" y2="592.50" stroke="#f3ad74" stroke-width="0.7"/>
<circle cx="378.90" cy="591.80" r="1.40" fill="#f0a460" stroke="none" stroke-width="0.5"/>
<circle cx="381.70" cy="595.10" r="1.40" fill="#f0a460" stroke="none" stroke-width="0.5"/>
<circle cx="380.30" cy="597.00" r="1.40" fill="#f0a460" stroke="none" stroke-width="0.5"/>
<rect x="387.80" y="591.80" width="5.80" height="28.00" fill="#fdeee2" stroke="#f3ad74" stroke-width="1.2"/>
<line x1="390.50" y1="587.40" x2="390.50" y2="591.80" stroke="#f3ad74" stroke-width="0.7"/>
<line x1="389.20" y1="587.50" x2="392.20" y2="587.50" stroke="#f3ad74" stroke-width="0.7"/>
<circle cx="389.30" cy="587.40" r="1.40" fill="#f0a460" stroke="none" stroke-width="0.5"/>
<circle cx="392.10" cy="589.60" r="1.40" fill="#f0a460" stroke="none" stroke-width="0.5"/>
<circle cx="390.70" cy="597.30" r="1.40" fill="#f0a460" stroke="none" stroke-width="0.5"/>
<rect x="398.20" y="596.20" width="5.80" height="23.60" fill="#fdeee2" stroke="#f3ad74" stroke-width="1.2"/>
<line x1="401.50" y1="594.50" x2="401.50" y2="596.20" stroke="#f3ad74" stroke-width="0.7"/>
<line x1="399.60" y1="594.50" x2="402.60" y2="594.50" stroke="#f3ad74" stroke-width="0.7"/>
<circle cx="399.70" cy="595.10" r="1.40" fill="#f0a460" stroke="none" stroke-width="0.5"/>
<circle cx="402.50" cy="597.30" r="1.40" fill="#f0a460" stroke="none" stroke-width="0.5"/>
<circle cx="401.10" cy="597.00" r="1.40" fill="#f0a460" stroke="none" stroke-width="0.5"/>
<rect x="415.90" y="590.70" width="5.80" height="29.10" fill="#f4eafa" stroke="#9a4cc3" stroke-width="1.2"/>
<line x1="418.50" y1="588.00" x2="418.50" y2="590.70" stroke="#9a4cc3" stroke-width="0.7"/>
<line x1="417.30" y1="588.50" x2="420.30" y2="588.50" stroke="#9a4cc3" stroke-width="0.7"/>
<circle cx="417.40" cy="586.30" r="1.40" fill="#9440bf" stroke="none" stroke-width="0.5"/>
<circle cx="420.20" cy="592.50" r="1.40" fill="#9440bf" stroke="none" stroke-width="0.5"/>
<circle cx="418.80" cy="593.00" r="1.40" fill="#9440bf" stroke="none" stroke-width="0.5"/>
<rect x="426.10" y="596.70" width="5.80" height="23.10" fill="#f4eafa" stroke="#9a4cc3" stroke-width="1.2"/>
<line x1="429.50" y1="594.50" x2="429.50" y2="596.70" stroke="#9a4cc3" stroke-width="0.7"/>
<line x1="427.50" y1="594.50" x2="430.50" y2="594.50" stroke="#9a4cc3" stroke-width="0.7"/>
<circle cx="427.60" cy="594.00" r="1.40" fill="#9440bf" stroke="none" stroke-width="0.5"/>
<circle cx="430.40" cy="597.00" r="1.40" fill="#9440bf" stroke="none" stroke-width="0.5"/>
<circle cx="429.00" cy="597.00" r="1.40" fill="#9440bf" stroke="none" stroke-width="0.5"/>
<rect x="436.40" y="597.80" width="5.80" height="22.00" fill="#f4eafa" stroke="#9a4cc3" stroke-width="1.2"/>
<line x1="439.50" y1="595.50" x2="439.50" y2="597.80" stroke="#9a4cc3" stroke-width="0.7"/>
<line x1="437.80" y1="595.50" x2="440.80" y2="595.50" stroke="#9a4cc3" stroke-width="0.7"/>
<circle cx="437.90" cy="594.70" r="1.40" fill="#9440bf" stroke="none" stroke-width="0.5"/>
<circle cx="440.70" cy="598.50" r="1.40" fill="#9440bf" stroke="none" stroke-width="0.5"/>
<circle cx="439.30" cy="598.50" r="1.40" fill="#9440bf" stroke="none" stroke-width="0.5"/>
<rect x="446.80" y="595.10" width="5.80" height="24.70" fill="#f4eafa" stroke="#9a4cc3" stroke-width="1.2"/>
<line x1="449.50" y1="593.50" x2="449.50" y2="595.10" stroke="#9a4cc3" stroke-width="0.7"/>
<line x1="448.20" y1="593.50" x2="451.20" y2="593.50" stroke="#9a4cc3" stroke-width="0.7"/>
<circle cx="448.30" cy="592.90" r="1.40" fill="#9440bf" stroke="none" stroke-width="0.5"/>
<circle cx="451.10" cy="595.60" r="1.40" fill="#9440bf" stroke="none" stroke-width="0.5"/>
<circle cx="449.70" cy="595.60" r="1.40" fill="#9440bf" stroke="none" stroke-width="0.5"/>
<line x1="265.50" y1="619.50" x2="457.20" y2="619.50" stroke="#222" stroke-width="0.9"/>
<line x1="272.50" y1="619.80" x2="272.50" y2="622.00" stroke="#222" stroke-width="0.9"/>
<line x1="283.50" y1="619.80" x2="283.50" y2="622.00" stroke="#222" stroke-width="0.9"/>
<line x1="293.50" y1="619.80" x2="293.50" y2="622.00" stroke="#222" stroke-width="0.9"/>
<line x1="304.50" y1="619.80" x2="304.50" y2="622.00" stroke="#222" stroke-width="0.9"/>
<line x1="321.50" y1="619.80" x2="321.50" y2="622.00" stroke="#222" stroke-width="0.9"/>
<line x1="332.50" y1="619.80" x2="332.50" y2="622.00" stroke="#222" stroke-width="0.9"/>
<line x1="342.50" y1="619.80" x2="342.50" y2="622.00" stroke="#222" stroke-width="0.9"/>
<line x1="352.50" y1="619.80" x2="352.50" y2="622.00" stroke="#222" stroke-width="0.9"/>
<line x1="370.50" y1="619.80" x2="370.50" y2="622.00" stroke="#222" stroke-width="0.9"/>
<line x1="380.50" y1="619.80" x2="380.50" y2="622.00" stroke="#222" stroke-width="0.9"/>
<line x1="390.50" y1="619.80" x2="390.50" y2="622.00" stroke="#222" stroke-width="0.9"/>
<line x1="401.50" y1="619.80" x2="401.50" y2="622.00" stroke="#222" stroke-width="0.9"/>
<line x1="418.50" y1="619.80" x2="418.50" y2="622.00" stroke="#222" stroke-width="0.9"/>
<line x1="429.50" y1="619.80" x2="429.50" y2="622.00" stroke="#222" stroke-width="0.9"/>
<line x1="439.50" y1="619.80" x2="439.50" y2="622.00" stroke="#222" stroke-width="0.9"/>
<line x1="449.50" y1="619.80" x2="449.50" y2="622.00" stroke="#222" stroke-width="0.9"/>
<text x="234.20" y="580.79" font-size="7.75" font-weight="bold" text-anchor="middle" fill="#000" transform="rotate(-90 234.20 578.00)">Luciferase activity</text>
<text x="230.70" y="630.22" font-size="7.83" font-weight="bold" text-anchor="start" fill="#000">TAIII[μM]:</text>
<text x="272.80" y="630.60" font-size="6.4" font-weight="bold" text-anchor="middle" fill="#000">0</text>
<text x="283.40" y="630.60" font-size="6.4" font-weight="bold" text-anchor="middle" fill="#000">1</text>
<text x="293.70" y="630.60" font-size="6.4" font-weight="bold" text-anchor="middle" fill="#000">3</text>
<text x="304.00" y="630.60" font-size="6.4" font-weight="bold" text-anchor="middle" fill="#000">10</text>
<text x="321.40" y="630.60" font-size="6.4" font-weight="bold" text-anchor="middle" fill="#000">0</text>
<text x="332.00" y="630.60" font-size="6.4" font-weight="bold" text-anchor="middle" fill="#000">1</text>
<text x="342.40" y="630.60" font-size="6.4" font-weight="bold" text-anchor="middle" fill="#000">3</text>
<text x="352.80" y="630.60" font-size="6.4" font-weight="bold" text-anchor="middle" fill="#000">10</text>
<text x="370.00" y="630.60" font-size="6.4" font-weight="bold" text-anchor="middle" fill="#000">0</text>
<text x="380.30" y="630.60" font-size="6.4" font-weight="bold" text-anchor="middle" fill="#000">1</text>
<text x="390.70" y="630.60" font-size="6.4" font-weight="bold" text-anchor="middle" fill="#000">3</text>
<text x="401.10" y="630.60" font-size="6.4" font-weight="bold" text-anchor="middle" fill="#000">10</text>
<text x="418.80" y="630.60" font-size="6.4" font-weight="bold" text-anchor="middle" fill="#000">0</text>
<text x="429.00" y="630.60" font-size="6.4" font-weight="bold" text-anchor="middle" fill="#000">1</text>
<text x="439.30" y="630.60" font-size="6.4" font-weight="bold" text-anchor="middle" fill="#000">3</text>
<text x="449.70" y="630.60" font-size="6.4" font-weight="bold" text-anchor="middle" fill="#000">10</text>
<line x1="272.60" y1="517.50" x2="304.00" y2="517.50" stroke="#222" stroke-width="1.0"/>
<text x="277.70" y="513.97" font-size="6.85" text-anchor="start" fill="#000" textLength="21.71" lengthAdjust="spacingAndGlyphs">&lt;0.0001</text>
<line x1="272.60" y1="531.50" x2="293.70" y2="531.50" stroke="#222" stroke-width="1.0"/>
<text x="273.80" y="528.05" font-size="7.07" text-anchor="start" fill="#000" textLength="18.81" lengthAdjust="spacingAndGlyphs">0.0120</text>
<line x1="272.60" y1="544.50" x2="284.10" y2="544.50" stroke="#222" stroke-width="1.0"/>
<text x="269.00" y="541.61" font-size="6.69" text-anchor="start" fill="#000" textLength="17.80" lengthAdjust="spacingAndGlyphs">0.0761</text>
<line x1="321.20" y1="517.50" x2="352.80" y2="517.50" stroke="#222" stroke-width="1.0"/>
<text x="327.80" y="513.85" font-size="7.07" text-anchor="start" fill="#000" textLength="18.81" lengthAdjust="spacingAndGlyphs">0.0828</text>
<line x1="321.20" y1="531.50" x2="342.00" y2="531.50" stroke="#222" stroke-width="1.0"/>
<text x="322.00" y="528.05" font-size="7.07" text-anchor="start" fill="#000" textLength="18.81" lengthAdjust="spacingAndGlyphs">0.1702</text>
<line x1="321.20" y1="544.50" x2="331.50" y2="544.50" stroke="#222" stroke-width="1.0"/>
<text x="317.70" y="541.88" font-size="6.88" text-anchor="start" fill="#000" textLength="18.29" lengthAdjust="spacingAndGlyphs">0.4742</text>
<line x1="370.30" y1="517.50" x2="401.20" y2="517.50" stroke="#222" stroke-width="1.0"/>
<text x="376.50" y="513.85" font-size="7.07" text-anchor="start" fill="#000" textLength="18.81" lengthAdjust="spacingAndGlyphs">0.0760</text>
<line x1="370.30" y1="531.50" x2="390.80" y2="531.50" stroke="#222" stroke-width="1.0"/>
<text x="371.00" y="527.93" font-size="7.03" text-anchor="start" fill="#000" textLength="18.69" lengthAdjust="spacingAndGlyphs">0.8288</text>
<line x1="370.30" y1="545.50" x2="380.40" y2="545.50" stroke="#222" stroke-width="1.0"/>
<text x="365.80" y="542.39" font-size="7.19" text-anchor="start" fill="#000" textLength="19.11" lengthAdjust="spacingAndGlyphs">0.1839</text>
<line x1="419.20" y1="517.50" x2="449.90" y2="517.50" stroke="#222" stroke-width="1.0"/>
<text x="424.70" y="513.90" font-size="7.22" text-anchor="start" fill="#000" textLength="19.21" lengthAdjust="spacingAndGlyphs">0.3739</text>
<line x1="419.20" y1="531.50" x2="439.50" y2="531.50" stroke="#222" stroke-width="1.0"/>
<text x="419.60" y="527.95" font-size="7.07" text-anchor="start" fill="#000" textLength="18.81" lengthAdjust="spacingAndGlyphs">0.1373</text>
<line x1="419.20" y1="545.50" x2="428.90" y2="545.50" stroke="#222" stroke-width="1.0"/>
<text x="414.70" y="542.32" font-size="6.99" text-anchor="start" fill="#000" textLength="18.59" lengthAdjust="spacingAndGlyphs">0.1969</text>
<circle cx="459.40" cy="526.50" r="1.25" fill="#666666" stroke="none" stroke-width="0.5"/>
<text x="468.10" y="528.98" font-size="6.9" text-anchor="start" fill="#000" textLength="9.33" lengthAdjust="spacingAndGlyphs">WT</text>
<circle cx="459.40" cy="538.00" r="1.25" fill="#18b083" stroke="none" stroke-width="0.5"/>
<text x="468.10" y="540.48" font-size="6.9" text-anchor="start" fill="#000" textLength="14.68" lengthAdjust="spacingAndGlyphs">S47A</text>
<circle cx="459.40" cy="548.70" r="1.25" fill="#f0a460" stroke="none" stroke-width="0.5"/>
<text x="468.10" y="551.18" font-size="6.9" text-anchor="start" fill="#000" textLength="18.01" lengthAdjust="spacingAndGlyphs">K122A</text>
<circle cx="459.40" cy="559.30" r="1.25" fill="#9440bf" stroke="none" stroke-width="0.5"/>
<text x="468.10" y="561.78" font-size="6.9" text-anchor="start" fill="#000" textLength="19.68" lengthAdjust="spacingAndGlyphs">W129A</text></svg></body></html>
